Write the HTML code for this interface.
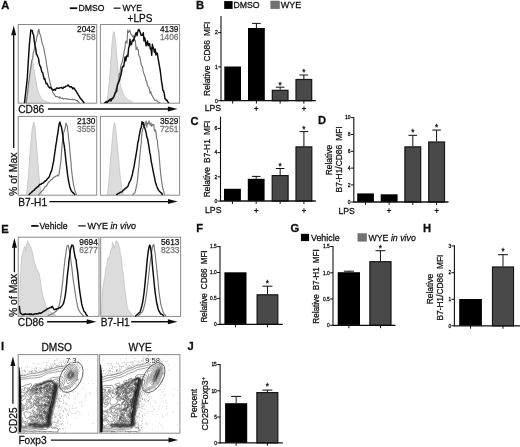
<!DOCTYPE html>
<html lang="en"><head><meta charset="utf-8"><title>Figure</title>
<style>html,body{margin:0;padding:0;background:#fff;}svg{display:block;}</style>
</head><body>
<svg width="520" height="447" viewBox="0 0 520 447" font-family='"Liberation Sans", Arial, sans-serif'>
<rect x="0" y="0" width="520" height="447" fill="#ffffff"/>
<defs><filter id="soft" x="-5%" y="-5%" width="110%" height="110%"><feGaussianBlur stdDeviation="0.3"/></filter><filter id="gsoft" x="0" y="0" width="100%" height="100%" filterUnits="userSpaceOnUse"><feGaussianBlur stdDeviation="0.38"/></filter></defs>
<g filter="url(#gsoft)">
<text x="1.30" y="9.00" font-size="11.2" font-weight="bold" fill="#111" text-anchor="start" stroke="#111" stroke-width="0.3">A</text>
<line x1="69.80" y1="8.20" x2="77.20" y2="8.20" stroke="#111" stroke-width="1.8"/>
<text x="78.60" y="11.40" font-size="8.6" fill="#111" text-anchor="start" stroke="#111" stroke-width="0.26">DMSO</text>
<line x1="113.60" y1="8.20" x2="120.50" y2="8.20" stroke="#3c3c3c" stroke-width="1.5"/>
<text x="122.40" y="11.40" font-size="8.6" fill="#111" text-anchor="start" stroke="#111" stroke-width="0.26">WYE</text>
<text x="127.60" y="21.80" font-size="10" fill="#111" text-anchor="start" stroke="#111" stroke-width="0.26">+LPS</text>
<g>
<rect x="18.20" y="24.50" width="78.50" height="78.70" fill="#fff" stroke="#8a8a8a" stroke-width="1"/>
<polygon points="25.4,102.6 26.1,100.4 26.8,98.1 27.5,94.6 28.2,90.4 28.9,84.6 29.6,78.5 30.3,72.2 31.0,66.0 31.7,61.4 32.4,60.8 33.1,63.1 33.8,67.8 34.5,72.6 35.2,76.3 35.9,80.6 36.6,85.2 37.3,88.9 38.0,91.0 38.7,92.6 39.4,94.6 40.1,95.9 40.8,97.5 41.5,98.7 42.2,99.2 42.9,99.8 43.6,100.5 44.3,100.8 45.0,101.2 45.7,101.3 46.4,101.6 47.1,101.7 47.8,102.0 48.5,102.1 49.2,102.4 49.9,102.6 49.9,102.6 25.4,102.6" fill="#dcdcdc" stroke="#bdbdbd" stroke-width="0.7" stroke-linejoin="round"/>
<polyline points="26.3,102.6 27.0,96.5 27.7,91.0 28.4,84.2 29.1,79.9 29.8,73.4 30.5,69.7 31.2,64.9 31.9,59.9 32.6,59.4 33.3,52.9 34.0,50.6 34.7,48.0 35.4,42.2 36.1,41.6 36.8,36.7 37.5,35.3 38.2,30.6 38.9,29.3 39.6,33.3 40.3,34.9 41.0,37.4 41.7,41.1 42.4,44.2 43.1,45.7 43.8,48.1 44.5,52.2 45.2,55.9 45.9,59.4 46.6,64.5 47.3,68.3 48.0,72.5 48.7,76.4 49.4,79.7 50.1,82.9 50.8,85.8 51.5,87.8 52.2,90.3 52.9,92.5 53.6,93.4 54.3,94.4 55.0,95.5 55.7,96.6 56.4,96.6 57.1,96.6 57.8,96.8 58.5,97.2 59.2,98.2 59.9,96.7 60.6,98.1 61.3,98.2 62.0,98.5 62.7,98.0 63.4,99.1 64.1,98.8 64.8,98.6 65.5,98.7 66.2,98.6 66.9,98.9 67.6,98.9 68.3,99.3 69.0,99.3 69.7,99.2 70.4,99.5 71.1,99.6 71.8,99.5 72.5,99.1 73.2,99.9 73.9,99.4 74.6,99.5 75.3,99.9 76.0,100.2 76.7,100.8 77.4,100.4 78.1,101.7 78.8,102.3 79.5,102.6" fill="none" stroke="#777" stroke-width="1.15" stroke-linejoin="round" stroke-linecap="round"/>
<polyline points="24.5,102.6 25.2,96.9 25.9,90.5 26.6,84.7 27.3,77.9 28.0,66.5 28.7,55.4 29.4,44.3 30.1,37.5 30.8,30.0 31.5,30.6 32.2,30.5 32.9,33.7 33.6,34.8 34.3,41.4 35.0,45.4 35.7,48.7 36.4,54.3 37.1,55.1 37.8,56.8 38.5,58.3 39.2,63.4 39.9,65.9 40.6,66.5 41.3,69.7 42.0,72.1 42.7,72.6 43.4,75.8 44.1,79.0 44.8,78.4 45.5,81.4 46.2,83.7 46.9,83.3 47.6,84.8 48.3,86.3 49.0,87.3 49.7,87.9 50.4,87.2 51.1,88.1 51.8,89.0 52.5,89.2 53.2,90.3 53.9,89.6 54.6,89.3 55.3,90.3 56.0,88.8 56.7,88.0 57.4,88.3 58.1,88.0 58.8,88.5 59.5,88.2 60.2,87.7 60.9,87.6 61.6,87.3 62.3,88.3 63.0,88.5 63.7,87.1 64.4,87.3 65.1,87.0 65.8,86.3 66.5,86.1 67.2,85.9 67.9,84.9 68.6,85.5 69.3,86.5 70.0,87.0 70.7,86.6 71.4,86.8 72.1,87.7 72.8,89.0 73.5,87.8 74.2,88.4 74.9,89.3 75.6,90.7 76.3,91.1 77.0,93.0 77.7,93.5 78.4,95.3 79.1,96.1 79.8,97.2 80.5,98.8 81.2,99.0 81.9,99.8 82.6,101.0 83.3,101.7 84.0,102.6" fill="none" stroke="#0a0a0a" stroke-width="1.45" stroke-linejoin="round" stroke-linecap="round"/>
<text x="95.50" y="32.10" font-size="8.3" fill="#111" text-anchor="end" stroke="#111" stroke-width="0.25">2042</text>
<text x="95.50" y="39.80" font-size="8.3" fill="#777" text-anchor="end" stroke="#777" stroke-width="0.26">758</text>
</g>
<g>
<rect x="100.40" y="24.50" width="79.20" height="78.70" fill="#fff" stroke="#8a8a8a" stroke-width="1"/>
<polygon points="106.5,102.6 107.2,99.0 107.9,95.2 108.6,89.4 109.3,82.4 110.0,72.1 110.7,61.6 111.4,50.9 112.1,42.7 112.8,35.9 113.5,31.4 114.2,32.1 114.9,36.5 115.6,42.0 116.3,50.4 117.0,58.2 117.7,66.4 118.4,72.8 119.1,77.5 119.8,82.1 120.5,85.3 121.2,88.1 121.9,90.3 122.6,91.9 123.3,93.7 124.0,95.2 124.7,96.2 125.4,97.1 126.1,97.8 126.8,98.8 127.5,99.5 128.2,99.9 128.9,99.9 129.6,100.2 130.3,100.9 131.0,101.3 131.7,101.5 132.4,102.0 133.1,102.6 133.1,102.6 106.5,102.6" fill="#dcdcdc" stroke="#bdbdbd" stroke-width="0.7" stroke-linejoin="round"/>
<polyline points="106.0,102.6 106.7,101.7 107.4,102.5 108.1,101.6 108.8,101.2 109.5,100.7 110.2,101.1 110.9,99.3 111.6,99.3 112.3,97.8 113.0,97.3 113.7,96.0 114.4,94.9 115.1,92.9 115.8,89.2 116.5,88.5 117.2,85.6 117.9,82.9 118.6,80.2 119.3,73.6 120.0,74.3 120.7,66.4 121.4,64.1 122.1,62.0 122.8,59.5 123.5,55.3 124.2,51.3 124.9,48.3 125.6,41.9 126.3,41.0 127.0,43.3 127.7,30.0 128.4,32.5 129.1,31.6 129.8,30.2 130.5,32.9 131.2,34.6 131.9,34.9 132.6,36.5 133.3,35.5 134.0,40.3 134.7,39.6 135.4,41.0 136.1,49.6 136.8,47.0 137.5,49.6 138.2,49.6 138.9,56.0 139.6,56.1 140.3,59.2 141.0,63.8 141.7,65.9 142.4,66.7 143.1,70.9 143.8,73.4 144.5,75.3 145.2,76.9 145.9,80.7 146.6,80.9 147.3,84.8 148.0,86.5 148.7,87.3 149.4,89.2 150.1,93.4 150.8,91.6 151.5,94.6 152.2,95.6 152.9,97.2 153.6,98.2 154.3,99.6 155.0,100.2 155.7,100.3 156.4,100.0 157.1,101.0 157.8,101.8 158.5,102.1 159.2,102.6 159.9,102.6" fill="none" stroke="#777" stroke-width="1.15" stroke-linejoin="round" stroke-linecap="round"/>
<polyline points="104.8,102.6 105.5,102.4 106.2,101.5 106.9,102.4 107.6,102.0 108.3,100.5 109.0,100.7 109.7,99.7 110.4,99.1 111.1,100.9 111.8,98.8 112.5,98.9 113.2,97.9 113.9,96.9 114.6,94.7 115.3,92.8 116.0,92.1 116.7,90.8 117.4,85.0 118.1,83.4 118.8,81.6 119.5,80.7 120.2,77.2 120.9,75.1 121.6,71.7 122.3,67.1 123.0,66.2 123.7,66.7 124.4,62.2 125.1,57.0 125.8,60.8 126.5,56.6 127.2,55.3 127.9,56.5 128.6,48.3 129.3,46.1 130.0,39.3 130.7,44.9 131.4,44.6 132.1,41.3 132.8,39.9 133.5,41.1 134.2,38.1 134.9,36.6 135.6,33.7 136.3,32.8 137.0,35.7 137.7,31.6 138.4,30.0 139.1,29.4 139.8,31.3 140.5,33.3 141.2,35.4 141.9,35.3 142.6,35.2 143.3,32.7 144.0,40.9 144.7,37.6 145.4,41.2 146.1,45.8 146.8,43.6 147.5,41.0 148.2,45.8 148.9,43.6 149.6,43.7 150.3,49.0 151.0,48.1 151.7,55.3 152.4,44.3 153.1,47.6 153.8,49.2 154.5,52.3 155.2,49.1 155.9,54.9 156.6,52.9 157.3,53.3 158.0,57.8 158.7,61.6 159.4,65.8 160.1,69.7 160.8,75.0 161.5,81.2 162.2,85.2 162.9,90.3 163.6,90.8 164.3,93.7 165.0,98.9 165.7,99.2 166.4,100.4 167.1,100.3 167.8,101.9 168.5,102.6" fill="none" stroke="#0a0a0a" stroke-width="1.45" stroke-linejoin="round" stroke-linecap="round"/>
<text x="178.40" y="32.10" font-size="8.3" fill="#111" text-anchor="end" stroke="#111" stroke-width="0.25">4139</text>
<text x="178.40" y="39.80" font-size="8.3" fill="#777" text-anchor="end" stroke="#777" stroke-width="0.26">1406</text>
</g>
<g>
<rect x="18.20" y="116.40" width="78.50" height="78.80" fill="#fff" stroke="#8a8a8a" stroke-width="1"/>
<polygon points="26.3,194.6 27.0,189.9 27.7,184.2 28.4,175.6 29.1,165.9 29.8,155.8 30.5,146.3 31.2,139.5 31.9,131.3 32.6,127.0 33.3,123.5 34.0,122.2 34.7,124.9 35.4,131.2 36.1,140.7 36.8,148.8 37.5,157.0 38.2,166.5 38.9,174.5 39.6,181.9 40.3,187.5 41.0,191.5 41.7,194.6 41.7,194.6 26.3,194.6" fill="#dcdcdc" stroke="#bdbdbd" stroke-width="0.7" stroke-linejoin="round"/>
<polyline points="38.6,194.6 39.3,194.1 40.0,193.2 40.7,192.2 41.4,191.6 42.1,190.8 42.8,190.3 43.5,189.5 44.2,188.1 44.9,187.0 45.6,186.1 46.3,186.1 47.0,185.2 47.7,183.7 48.4,182.3 49.1,181.7 49.8,181.5 50.5,180.3 51.2,179.6 51.9,179.5 52.6,178.7 53.3,177.5 54.0,177.6 54.7,176.7 55.4,176.6 56.1,176.0 56.8,175.7 57.5,175.2 58.2,176.0 58.9,174.4 59.6,169.8 60.3,165.5 61.0,160.1 61.7,149.1 62.4,142.4 63.1,134.9 63.8,132.6 64.5,129.7 65.2,128.0 65.9,123.0 66.6,125.0 67.3,126.2 68.0,132.2 68.7,139.1 69.4,144.8 70.1,153.4 70.8,160.5 71.5,169.5 72.2,175.4 72.9,180.8 73.6,185.1 74.3,188.2 75.0,191.0 75.7,192.6 76.4,194.6" fill="none" stroke="#777" stroke-width="1.15" stroke-linejoin="round" stroke-linecap="round"/>
<polyline points="29.2,194.6 29.9,193.6 30.6,193.0 31.3,192.5 32.0,191.9 32.7,191.3 33.4,190.5 34.1,190.3 34.8,189.2 35.5,188.7 36.2,188.0 36.9,187.3 37.6,186.8 38.3,186.5 39.0,185.4 39.7,184.5 40.4,184.3 41.1,184.3 41.8,183.3 42.5,183.2 43.2,183.1 43.9,182.4 44.6,181.1 45.3,181.3 46.0,180.5 46.7,179.9 47.4,178.6 48.1,178.2 48.8,177.6 49.5,176.0 50.2,174.0 50.9,172.0 51.6,170.9 52.3,167.6 53.0,164.1 53.7,160.8 54.4,155.5 55.1,151.0 55.8,145.6 56.5,141.7 57.2,136.6 57.9,133.0 58.6,127.3 59.3,123.5 60.0,122.1 60.7,124.9 61.4,126.7 62.1,131.1 62.8,135.1 63.5,141.7 64.2,145.4 64.9,150.8 65.6,157.8 66.3,163.8 67.0,169.6 67.7,175.4 68.4,180.0 69.1,183.6 69.8,186.9 70.5,188.7 71.2,190.7 71.9,191.5 72.6,192.7 73.3,192.7 74.0,193.6 74.7,194.6" fill="none" stroke="#0a0a0a" stroke-width="1.45" stroke-linejoin="round" stroke-linecap="round"/>
<text x="95.50" y="124.00" font-size="8.3" fill="#111" text-anchor="end" stroke="#111" stroke-width="0.25">2130</text>
<text x="95.50" y="131.70" font-size="8.3" fill="#777" text-anchor="end" stroke="#777" stroke-width="0.26">3555</text>
</g>
<g>
<rect x="100.40" y="116.40" width="79.20" height="78.80" fill="#fff" stroke="#8a8a8a" stroke-width="1"/>
<polygon points="107.4,194.6 108.1,188.6 108.8,181.5 109.5,172.5 110.2,164.0 110.9,154.8 111.6,147.1 112.3,139.9 113.0,131.6 113.7,125.6 114.4,122.4 115.1,123.9 115.8,129.3 116.5,136.0 117.2,142.3 117.9,151.1 118.6,158.3 119.3,167.1 120.0,174.2 120.7,180.3 121.4,184.9 122.1,189.0 122.8,191.7 123.5,194.6 123.5,194.6 107.4,194.6" fill="#dcdcdc" stroke="#bdbdbd" stroke-width="0.7" stroke-linejoin="round"/>
<polyline points="132.8,194.6 133.5,193.7 134.2,193.2 134.9,192.8 135.6,190.1 136.3,186.8 137.0,183.8 137.7,178.0 138.4,170.4 139.1,164.6 139.8,156.1 140.5,148.8 141.2,143.2 141.9,133.7 142.6,129.2 143.3,127.9 144.0,124.7 144.7,126.1 145.4,122.5 146.1,121.0 146.8,127.2 147.5,123.2 148.2,123.9 148.9,120.9 149.6,123.4 150.3,125.3 151.0,122.9 151.7,126.4 152.4,124.4 153.1,125.2 153.8,124.7 154.5,131.2 155.2,129.8 155.9,131.1 156.6,138.7 157.3,140.0 158.0,148.1 158.7,150.9 159.4,158.8 160.1,167.6 160.8,174.6 161.5,180.3 162.2,185.5 162.9,188.8 163.6,190.5 164.3,194.6" fill="none" stroke="#777" stroke-width="1.15" stroke-linejoin="round" stroke-linecap="round"/>
<polyline points="116.8,194.6 117.5,194.0 118.2,193.6 118.9,193.2 119.6,193.0 120.3,192.3 121.0,192.1 121.7,192.0 122.4,191.4 123.1,190.4 123.8,189.9 124.5,189.5 125.2,188.4 125.9,188.0 126.6,187.8 127.3,186.7 128.0,186.1 128.7,183.9 129.4,182.4 130.1,181.1 130.8,179.7 131.5,177.3 132.2,175.5 132.9,171.5 133.6,168.6 134.3,165.3 135.0,160.6 135.7,156.8 136.4,152.5 137.1,148.6 137.8,142.7 138.5,140.3 139.2,135.6 139.9,132.3 140.6,128.5 141.3,127.7 142.0,121.7 142.7,123.9 143.4,122.6 144.1,126.5 144.8,128.1 145.5,130.4 146.2,133.1 146.9,137.4 147.6,138.6 148.3,142.8 149.0,146.9 149.7,152.2 150.4,155.0 151.1,160.6 151.8,164.1 152.5,167.7 153.2,171.3 153.9,174.8 154.6,177.8 155.3,181.6 156.0,184.1 156.7,186.2 157.4,187.7 158.1,189.4 158.8,190.4 159.5,191.3 160.2,192.1 160.9,192.8 161.6,193.0 162.3,194.6" fill="none" stroke="#0a0a0a" stroke-width="1.45" stroke-linejoin="round" stroke-linecap="round"/>
<text x="178.40" y="124.00" font-size="8.3" fill="#111" text-anchor="end" stroke="#111" stroke-width="0.25">3529</text>
<text x="178.40" y="131.70" font-size="8.3" fill="#777" text-anchor="end" stroke="#777" stroke-width="0.26">7251</text>
</g>
<text x="18.20" y="112.70" font-size="10.2" fill="#111" text-anchor="start" stroke="#111" stroke-width="0.26">CD86</text>
<line x1="47.90" y1="109.00" x2="168.90" y2="109.00" stroke="#111" stroke-width="1.4"/>
<polygon points="177.60,109.00 167.90,106.50 167.90,111.50" fill="#111"/>
<text x="18.20" y="205.60" font-size="10.2" fill="#111" text-anchor="start" stroke="#111" stroke-width="0.26">B7-H1</text>
<line x1="49.40" y1="201.60" x2="169.00" y2="201.60" stroke="#111" stroke-width="1.4"/>
<polygon points="177.70,201.60 168.00,199.10 168.00,204.10" fill="#111"/>
<text x="17.00" y="195.90" font-size="10.4" fill="#111" text-anchor="start" transform="rotate(-90 17.00 195.90)" stroke="#111" stroke-width="0.26">% of Max</text>
<line x1="13.70" y1="148.00" x2="13.70" y2="34.30" stroke="#111" stroke-width="1.3"/>
<polygon points="13.70,25.60 11.20,35.30 16.20,35.30" fill="#111"/>
<text x="196.10" y="8.70" font-size="11.2" font-weight="bold" fill="#111" text-anchor="start" stroke="#111" stroke-width="0.3">B</text>
<rect x="224.20" y="1.10" width="8.40" height="7.80" fill="#050505" stroke="none" stroke-width="1"/>
<text x="233.40" y="8.40" font-size="8.7" fill="#111" text-anchor="start" stroke="#111" stroke-width="0.26">DMSO</text>
<rect x="270.80" y="1.00" width="8.70" height="7.80" fill="#727272" stroke="#666" stroke-width="0.5"/>
<text x="280.70" y="8.40" font-size="9.0" fill="#111" text-anchor="start" stroke="#111" stroke-width="0.26">WYE</text>
<rect x="224.30" y="66.50" width="16.70" height="34.20" fill="#050505" stroke="none" stroke-width="1"/>
<line x1="232.65" y1="100.70" x2="232.65" y2="103.60" stroke="#111" stroke-width="1.0"/>
<line x1="256.40" y1="28.00" x2="256.40" y2="23.40" stroke="#111" stroke-width="1.0"/>
<line x1="252.10" y1="23.40" x2="260.70" y2="23.40" stroke="#111" stroke-width="1.0"/>
<rect x="248.00" y="28.00" width="16.80" height="72.70" fill="#050505" stroke="none" stroke-width="1"/>
<line x1="256.40" y1="100.70" x2="256.40" y2="103.60" stroke="#111" stroke-width="1.0"/>
<line x1="280.15" y1="89.80" x2="280.15" y2="87.20" stroke="#111" stroke-width="1.0"/>
<line x1="275.85" y1="87.20" x2="284.45" y2="87.20" stroke="#111" stroke-width="1.0"/>
<rect x="272.30" y="90.30" width="15.70" height="10.40" fill="#4a4a4a" stroke="#141414" stroke-width="1.2"/>
<text x="280.15" y="87.50" font-size="8.2" fill="#111" text-anchor="middle" stroke="#111" stroke-width="0.26">*</text>
<line x1="280.15" y1="100.70" x2="280.15" y2="103.60" stroke="#111" stroke-width="1.0"/>
<line x1="303.85" y1="79.00" x2="303.85" y2="75.00" stroke="#111" stroke-width="1.0"/>
<line x1="299.55" y1="75.00" x2="308.15" y2="75.00" stroke="#111" stroke-width="1.0"/>
<rect x="296.00" y="79.50" width="15.70" height="21.20" fill="#4a4a4a" stroke="#141414" stroke-width="1.2"/>
<text x="303.85" y="75.30" font-size="8.2" fill="#111" text-anchor="middle" stroke="#111" stroke-width="0.26">*</text>
<line x1="303.85" y1="100.70" x2="303.85" y2="103.60" stroke="#111" stroke-width="1.0"/>
<line x1="221.00" y1="15.90" x2="221.00" y2="101.20" stroke="#111" stroke-width="1.1"/>
<line x1="220.50" y1="100.70" x2="315.80" y2="100.70" stroke="#111" stroke-width="1.3"/>
<line x1="218.10" y1="32.60" x2="221.00" y2="32.60" stroke="#111" stroke-width="1.0"/>
<text x="217.70" y="34.40" font-size="5.0" fill="#111" text-anchor="end" stroke="#111" stroke-width="0.26">2</text>
<line x1="218.10" y1="66.80" x2="221.00" y2="66.80" stroke="#111" stroke-width="1.0"/>
<text x="217.70" y="68.60" font-size="5.0" fill="#111" text-anchor="end" stroke="#111" stroke-width="0.26">1</text>
<line x1="218.10" y1="100.70" x2="221.00" y2="100.70" stroke="#111" stroke-width="1.0"/>
<text x="217.70" y="102.50" font-size="5.0" fill="#111" text-anchor="end" stroke="#111" stroke-width="0.26">0</text>
<text x="210.20" y="95.90" font-size="8.4" fill="#111" text-anchor="start" transform="rotate(-90 210.20 95.90)" word-spacing="1.8" stroke="#111" stroke-width="0.26">Relative CD86 MFI</text>
<text x="204.70" y="110.80" font-size="8.7" fill="#111" text-anchor="start" stroke="#111" stroke-width="0.26">LPS</text>
<text x="256.30" y="112.10" font-size="8.5" font-weight="bold" fill="#111" text-anchor="middle">+</text>
<text x="303.90" y="112.10" font-size="8.5" font-weight="bold" fill="#111" text-anchor="middle">+</text>
<text x="190.40" y="124.60" font-size="11.2" font-weight="bold" fill="#111" text-anchor="start" stroke="#111" stroke-width="0.3">C</text>
<rect x="224.00" y="188.80" width="16.90" height="12.20" fill="#050505" stroke="none" stroke-width="1"/>
<line x1="232.45" y1="201.00" x2="232.45" y2="203.90" stroke="#111" stroke-width="1.0"/>
<line x1="256.20" y1="178.80" x2="256.20" y2="176.40" stroke="#111" stroke-width="1.0"/>
<line x1="251.90" y1="176.40" x2="260.50" y2="176.40" stroke="#111" stroke-width="1.0"/>
<rect x="247.80" y="178.80" width="16.80" height="22.20" fill="#050505" stroke="none" stroke-width="1"/>
<line x1="256.20" y1="201.00" x2="256.20" y2="203.90" stroke="#111" stroke-width="1.0"/>
<line x1="280.15" y1="175.10" x2="280.15" y2="168.50" stroke="#111" stroke-width="1.0"/>
<line x1="275.85" y1="168.50" x2="284.45" y2="168.50" stroke="#111" stroke-width="1.0"/>
<rect x="272.20" y="175.60" width="15.90" height="25.40" fill="#4a4a4a" stroke="#141414" stroke-width="1.2"/>
<text x="280.15" y="168.80" font-size="8.2" fill="#111" text-anchor="middle" stroke="#111" stroke-width="0.26">*</text>
<line x1="280.15" y1="201.00" x2="280.15" y2="203.90" stroke="#111" stroke-width="1.0"/>
<line x1="303.90" y1="146.40" x2="303.90" y2="131.60" stroke="#111" stroke-width="1.0"/>
<line x1="299.60" y1="131.60" x2="308.20" y2="131.60" stroke="#111" stroke-width="1.0"/>
<rect x="296.00" y="146.90" width="15.80" height="54.10" fill="#4a4a4a" stroke="#141414" stroke-width="1.2"/>
<text x="303.90" y="132.00" font-size="8.2" fill="#111" text-anchor="middle" stroke="#111" stroke-width="0.26">*</text>
<line x1="303.90" y1="201.00" x2="303.90" y2="203.90" stroke="#111" stroke-width="1.0"/>
<line x1="220.50" y1="116.70" x2="220.50" y2="201.50" stroke="#111" stroke-width="1.1"/>
<line x1="220.00" y1="201.00" x2="315.80" y2="201.00" stroke="#111" stroke-width="1.3"/>
<line x1="217.60" y1="128.40" x2="220.50" y2="128.40" stroke="#111" stroke-width="1.0"/>
<text x="217.20" y="130.20" font-size="5.0" fill="#111" text-anchor="end" stroke="#111" stroke-width="0.26">6</text>
<line x1="217.60" y1="152.60" x2="220.50" y2="152.60" stroke="#111" stroke-width="1.0"/>
<text x="217.20" y="154.40" font-size="5.0" fill="#111" text-anchor="end" stroke="#111" stroke-width="0.26">4</text>
<line x1="217.60" y1="176.80" x2="220.50" y2="176.80" stroke="#111" stroke-width="1.0"/>
<text x="217.20" y="178.60" font-size="5.0" fill="#111" text-anchor="end" stroke="#111" stroke-width="0.26">2</text>
<line x1="217.60" y1="201.00" x2="220.50" y2="201.00" stroke="#111" stroke-width="1.0"/>
<text x="217.20" y="202.80" font-size="5.0" fill="#111" text-anchor="end" stroke="#111" stroke-width="0.26">0</text>
<text x="210.20" y="197.30" font-size="8.4" fill="#111" text-anchor="start" transform="rotate(-90 210.20 197.30)" word-spacing="1.8" stroke="#111" stroke-width="0.26">Relative B7-H1 MFI</text>
<text x="205.00" y="213.40" font-size="8.7" fill="#111" text-anchor="start" stroke="#111" stroke-width="0.26">LPS</text>
<text x="256.30" y="213.90" font-size="8.5" font-weight="bold" fill="#111" text-anchor="middle">+</text>
<text x="303.90" y="213.90" font-size="8.5" font-weight="bold" fill="#111" text-anchor="middle">+</text>
<text x="318.00" y="124.30" font-size="11.2" font-weight="bold" fill="#111" text-anchor="start" stroke="#111" stroke-width="0.3">D</text>
<rect x="357.20" y="193.40" width="16.70" height="8.60" fill="#050505" stroke="none" stroke-width="1"/>
<line x1="365.55" y1="202.00" x2="365.55" y2="204.90" stroke="#111" stroke-width="1.0"/>
<rect x="380.70" y="194.30" width="16.90" height="7.70" fill="#050505" stroke="none" stroke-width="1"/>
<line x1="389.15" y1="202.00" x2="389.15" y2="204.90" stroke="#111" stroke-width="1.0"/>
<line x1="412.80" y1="146.40" x2="412.80" y2="135.30" stroke="#111" stroke-width="1.0"/>
<line x1="408.50" y1="135.30" x2="417.10" y2="135.30" stroke="#111" stroke-width="1.0"/>
<rect x="404.90" y="146.90" width="15.80" height="55.10" fill="#4a4a4a" stroke="#141414" stroke-width="1.2"/>
<text x="412.80" y="135.20" font-size="8.2" fill="#111" text-anchor="middle" stroke="#111" stroke-width="0.26">*</text>
<line x1="412.80" y1="202.00" x2="412.80" y2="204.90" stroke="#111" stroke-width="1.0"/>
<line x1="436.60" y1="141.50" x2="436.60" y2="130.10" stroke="#111" stroke-width="1.0"/>
<line x1="432.30" y1="130.10" x2="440.90" y2="130.10" stroke="#111" stroke-width="1.0"/>
<rect x="428.70" y="142.00" width="15.80" height="60.00" fill="#4a4a4a" stroke="#141414" stroke-width="1.2"/>
<text x="436.60" y="129.80" font-size="8.2" fill="#111" text-anchor="middle" stroke="#111" stroke-width="0.26">*</text>
<line x1="436.60" y1="202.00" x2="436.60" y2="204.90" stroke="#111" stroke-width="1.0"/>
<line x1="353.80" y1="117.10" x2="353.80" y2="202.50" stroke="#111" stroke-width="1.1"/>
<line x1="353.30" y1="202.00" x2="448.50" y2="202.00" stroke="#111" stroke-width="1.3"/>
<line x1="350.90" y1="117.60" x2="353.80" y2="117.60" stroke="#111" stroke-width="1.0"/>
<text x="350.50" y="119.40" font-size="5.0" fill="#111" text-anchor="end" stroke="#111" stroke-width="0.26">10</text>
<line x1="350.90" y1="134.50" x2="353.80" y2="134.50" stroke="#111" stroke-width="1.0"/>
<text x="350.50" y="136.30" font-size="5.0" fill="#111" text-anchor="end" stroke="#111" stroke-width="0.26">8</text>
<line x1="350.90" y1="151.30" x2="353.80" y2="151.30" stroke="#111" stroke-width="1.0"/>
<text x="350.50" y="153.10" font-size="5.0" fill="#111" text-anchor="end" stroke="#111" stroke-width="0.26">6</text>
<line x1="350.90" y1="168.10" x2="353.80" y2="168.10" stroke="#111" stroke-width="1.0"/>
<text x="350.50" y="169.90" font-size="5.0" fill="#111" text-anchor="end" stroke="#111" stroke-width="0.26">4</text>
<line x1="350.90" y1="184.90" x2="353.80" y2="184.90" stroke="#111" stroke-width="1.0"/>
<text x="350.50" y="186.70" font-size="5.0" fill="#111" text-anchor="end" stroke="#111" stroke-width="0.26">2</text>
<line x1="350.90" y1="202.00" x2="353.80" y2="202.00" stroke="#111" stroke-width="1.0"/>
<text x="350.50" y="203.80" font-size="5.0" fill="#111" text-anchor="end" stroke="#111" stroke-width="0.26">0</text>
<text x="332.50" y="175.20" font-size="8.4" fill="#111" text-anchor="start" transform="rotate(-90 332.50 175.20)" stroke="#111" stroke-width="0.26">Relative</text>
<text x="341.70" y="192.40" font-size="8.4" fill="#111" text-anchor="start" transform="rotate(-90 341.70 192.40)" word-spacing="1.8" stroke="#111" stroke-width="0.26">B7-H1/CD86 MFI</text>
<text x="338.40" y="213.70" font-size="8.7" fill="#111" text-anchor="start" stroke="#111" stroke-width="0.26">LPS</text>
<text x="388.90" y="213.90" font-size="8.5" font-weight="bold" fill="#111" text-anchor="middle">+</text>
<text x="436.70" y="213.90" font-size="8.5" font-weight="bold" fill="#111" text-anchor="middle">+</text>
<text x="1.30" y="232.90" font-size="11.2" font-weight="bold" fill="#111" text-anchor="start" stroke="#111" stroke-width="0.3">E</text>
<line x1="31.20" y1="225.90" x2="38.50" y2="225.90" stroke="#111" stroke-width="1.8"/>
<text x="39.50" y="229.20" font-size="8.7" fill="#111" text-anchor="start" stroke="#111" stroke-width="0.26">Vehicle</text>
<line x1="78.20" y1="225.90" x2="85.80" y2="225.90" stroke="#3c3c3c" stroke-width="1.5"/>
<text x="87.50" y="229.20" font-size="9.0" fill="#111" text-anchor="start" stroke="#111" stroke-width="0.26">WYE <tspan font-style="italic">in vivo</tspan></text>
<g>
<rect x="18.20" y="237.20" width="80.80" height="79.20" fill="#fff" stroke="#8a8a8a" stroke-width="1"/>
<polygon points="19.4,315.8 20.1,287.5 20.8,271.6 21.5,257.3 22.2,254.7 22.9,252.3 23.6,249.9 24.3,246.7 25.0,246.7 25.7,251.6 26.4,244.1 27.1,242.9 27.8,240.7 28.5,245.2 29.2,243.8 29.9,246.5 30.6,246.1 31.3,248.2 32.0,250.7 32.7,254.1 33.4,258.1 34.1,260.6 34.8,264.2 35.5,264.3 36.2,268.4 36.9,269.3 37.6,270.2 38.3,272.4 39.0,273.1 39.7,277.1 40.4,280.3 41.1,287.4 41.8,289.9 42.5,293.5 43.2,297.0 43.9,299.0 44.6,301.7 45.3,303.5 46.0,305.8 46.7,307.1 47.4,308.8 48.1,309.1 48.8,309.9 49.5,311.0 50.2,311.7 50.9,312.1 51.6,312.2 52.3,313.9 53.0,313.2 53.7,314.1 54.4,314.4 55.1,314.8 55.8,315.8 55.8,315.8 19.4,315.8" fill="#dcdcdc" stroke="#bdbdbd" stroke-width="0.7" stroke-linejoin="round"/>
<polyline points="48.0,315.8 48.7,315.3 49.4,315.1 50.1,314.6 50.8,314.4 51.5,314.1 52.2,313.9 52.9,313.5 53.6,312.9 54.3,312.7 55.0,311.8 55.7,311.6 56.4,310.8 57.1,310.3 57.8,309.6 58.5,307.8 59.2,305.2 59.9,302.3 60.6,298.4 61.3,292.9 62.0,287.6 62.7,281.4 63.4,274.4 64.1,267.0 64.8,260.7 65.5,256.2 66.2,251.2 66.9,246.2 67.6,245.6 68.3,245.4 69.0,249.0 69.7,252.3 70.4,256.5 71.1,262.2 71.8,267.4 72.5,273.4 73.2,279.6 73.9,284.1 74.6,289.1 75.3,293.4 76.0,298.0 76.7,301.9 77.4,305.2 78.1,308.4 78.8,310.0 79.5,311.1 80.2,312.5 80.9,313.1 81.6,314.1 82.3,315.0 83.0,315.5 83.7,315.8" fill="none" stroke="#777" stroke-width="1.15" stroke-linejoin="round" stroke-linecap="round"/>
<polyline points="19.4,306.5 20.1,312.3 20.8,313.4 21.5,313.9 22.2,314.4 22.9,314.8 23.6,314.2 24.3,314.6 25.0,313.8 25.7,314.3 26.4,314.2 27.1,314.1 27.8,314.2 28.5,314.1 29.2,314.4 29.9,313.7 30.6,314.6 31.3,313.9 32.0,314.5 32.7,314.5 33.4,314.6 34.1,314.1 34.8,313.8 35.5,313.8 36.2,314.1 36.9,313.7 37.6,313.6 38.3,313.7 39.0,313.0 39.7,312.9 40.4,313.4 41.1,313.0 41.8,312.7 42.5,312.4 43.2,311.5 43.9,311.1 44.6,311.1 45.3,310.1 46.0,310.1 46.7,309.3 47.4,308.8 48.1,308.5 48.8,308.3 49.5,307.9 50.2,307.4 50.9,307.7 51.6,306.9 52.3,306.3 53.0,307.5 53.7,308.9 54.4,309.6 55.1,309.6 55.8,309.1 56.5,309.2 57.2,308.6 57.9,308.6 58.6,308.0 59.3,307.8 60.0,307.9 60.7,307.1 61.4,306.5 62.1,305.6 62.8,304.6 63.5,303.4 64.2,300.7 64.9,297.6 65.6,293.0 66.3,287.2 67.0,279.9 67.7,272.3 68.4,267.3 69.1,259.7 69.8,255.5 70.5,249.3 71.2,246.8 71.9,245.1 72.6,245.3 73.3,246.2 74.0,250.9 74.7,255.0 75.4,258.2 76.1,259.9 76.8,266.8 77.5,270.7 78.2,277.4 78.9,284.5 79.6,290.1 80.3,295.0 81.0,299.3 81.7,303.9 82.4,306.6 83.1,308.4 83.8,311.0 84.5,311.7 85.2,312.4 85.9,314.1 86.6,314.9 87.3,315.8" fill="none" stroke="#0a0a0a" stroke-width="1.45" stroke-linejoin="round" stroke-linecap="round"/>
<text x="97.80" y="244.80" font-size="8.3" fill="#111" text-anchor="end" stroke="#111" stroke-width="0.25">9694</text>
<text x="97.80" y="252.50" font-size="8.3" fill="#777" text-anchor="end" stroke="#777" stroke-width="0.26">6277</text>
</g>
<g>
<rect x="100.70" y="237.20" width="79.90" height="79.20" fill="#fff" stroke="#8a8a8a" stroke-width="1"/>
<polygon points="101.4,315.8 102.1,299.3 102.8,288.4 103.5,284.2 104.2,279.3 104.9,276.5 105.6,270.5 106.3,266.3 107.0,264.5 107.7,258.9 108.4,257.5 109.1,257.3 109.8,255.4 110.5,251.4 111.2,248.5 111.9,248.4 112.6,242.3 113.3,244.9 114.0,248.5 114.7,246.1 115.4,244.3 116.1,240.6 116.8,241.6 117.5,242.0 118.2,243.2 118.9,245.5 119.6,247.7 120.3,253.9 121.0,256.2 121.7,259.7 122.4,270.9 123.1,271.3 123.8,278.9 124.5,286.9 125.2,291.3 125.9,297.1 126.6,302.2 127.3,307.4 128.0,309.4 128.7,310.3 129.4,311.5 130.1,312.4 130.8,312.7 131.5,314.2 132.2,314.4 132.9,315.1 133.6,315.8 133.6,315.8 101.4,315.8" fill="#dcdcdc" stroke="#bdbdbd" stroke-width="0.7" stroke-linejoin="round"/>
<polyline points="138.4,315.8 139.1,315.0 139.8,314.4 140.5,313.9 141.2,312.8 141.9,312.5 142.6,311.1 143.3,309.9 144.0,307.0 144.7,304.5 145.4,300.9 146.1,297.0 146.8,291.8 147.5,286.2 148.2,280.4 148.9,273.5 149.6,267.2 150.3,261.7 151.0,256.7 151.7,251.6 152.4,247.2 153.1,245.2 153.8,244.4 154.5,249.5 155.2,253.8 155.9,261.2 156.6,267.3 157.3,274.6 158.0,281.2 158.7,289.0 159.4,295.0 160.1,299.7 160.8,304.1 161.5,306.9 162.2,309.2 162.9,311.4 163.6,313.1 164.3,313.8 165.0,314.7 165.7,315.8" fill="none" stroke="#777" stroke-width="1.15" stroke-linejoin="round" stroke-linecap="round"/>
<polyline points="135.6,315.8 136.3,315.4 137.0,314.7 137.7,314.0 138.4,313.6 139.1,312.8 139.8,312.4 140.5,310.5 141.2,308.1 141.9,305.7 142.6,302.5 143.3,298.1 144.0,293.1 144.7,286.8 145.4,279.1 146.1,272.3 146.8,264.1 147.5,257.2 148.2,251.5 148.9,247.8 149.6,245.2 150.3,246.0 151.0,250.3 151.7,255.7 152.4,264.7 153.1,272.4 153.8,279.4 154.5,286.5 155.2,292.6 155.9,297.5 156.6,302.5 157.3,305.3 158.0,308.5 158.7,310.5 159.4,311.6 160.1,313.0 160.8,314.0 161.5,314.0 162.2,314.7 162.9,315.0 163.6,315.8" fill="none" stroke="#0a0a0a" stroke-width="1.45" stroke-linejoin="round" stroke-linecap="round"/>
<text x="179.40" y="244.80" font-size="8.3" fill="#111" text-anchor="end" stroke="#111" stroke-width="0.25">5613</text>
<text x="179.40" y="252.50" font-size="8.3" fill="#777" text-anchor="end" stroke="#777" stroke-width="0.26">8233</text>
</g>
<text x="17.80" y="326.00" font-size="10.2" fill="#111" text-anchor="start" stroke="#111" stroke-width="0.26">CD86</text>
<line x1="47.10" y1="321.80" x2="87.70" y2="321.80" stroke="#111" stroke-width="1.4"/>
<polygon points="96.40,321.80 86.70,319.30 86.70,324.30" fill="#111"/>
<text x="100.80" y="326.00" font-size="10.2" fill="#111" text-anchor="start" stroke="#111" stroke-width="0.26">B7-H1</text>
<line x1="131.20" y1="321.80" x2="168.90" y2="321.80" stroke="#111" stroke-width="1.4"/>
<polygon points="177.60,321.80 167.90,319.30 167.90,324.30" fill="#111"/>
<text x="16.90" y="317.00" font-size="10.4" fill="#111" text-anchor="start" transform="rotate(-90 16.90 317.00)" stroke="#111" stroke-width="0.26">% of Max</text>
<line x1="14.40" y1="272.20" x2="14.40" y2="246.70" stroke="#111" stroke-width="1.3"/>
<polygon points="14.40,238.00 11.90,247.70 16.90,247.70" fill="#111"/>
<text x="196.20" y="232.10" font-size="11.2" font-weight="bold" fill="#111" text-anchor="start" stroke="#111" stroke-width="0.3">F</text>
<rect x="224.40" y="272.30" width="22.10" height="52.10" fill="#050505" stroke="none" stroke-width="1"/>
<line x1="235.45" y1="324.40" x2="235.45" y2="327.30" stroke="#111" stroke-width="1.0"/>
<line x1="267.45" y1="294.30" x2="267.45" y2="286.20" stroke="#111" stroke-width="1.0"/>
<line x1="262.45" y1="286.20" x2="272.45" y2="286.20" stroke="#111" stroke-width="1.0"/>
<rect x="257.10" y="294.80" width="20.70" height="29.60" fill="#4a4a4a" stroke="#141414" stroke-width="1.2"/>
<text x="267.45" y="286.00" font-size="8.2" fill="#111" text-anchor="middle" stroke="#111" stroke-width="0.26">*</text>
<line x1="267.45" y1="324.40" x2="267.45" y2="327.30" stroke="#111" stroke-width="1.0"/>
<line x1="220.00" y1="246.10" x2="220.00" y2="324.90" stroke="#111" stroke-width="1.1"/>
<line x1="219.50" y1="324.40" x2="282.80" y2="324.40" stroke="#111" stroke-width="1.3"/>
<line x1="217.10" y1="246.60" x2="220.00" y2="246.60" stroke="#111" stroke-width="1.0"/>
<text x="216.70" y="248.33" font-size="4.8" fill="#111" text-anchor="end" stroke="#111" stroke-width="0.26">1.5</text>
<line x1="217.10" y1="272.50" x2="220.00" y2="272.50" stroke="#111" stroke-width="1.0"/>
<text x="216.70" y="274.23" font-size="4.8" fill="#111" text-anchor="end" stroke="#111" stroke-width="0.26">1.0</text>
<line x1="217.10" y1="298.40" x2="220.00" y2="298.40" stroke="#111" stroke-width="1.0"/>
<text x="216.70" y="300.13" font-size="4.8" fill="#111" text-anchor="end" stroke="#111" stroke-width="0.26">0.5</text>
<line x1="217.10" y1="324.40" x2="220.00" y2="324.40" stroke="#111" stroke-width="1.0"/>
<text x="216.70" y="326.13" font-size="4.8" fill="#111" text-anchor="end" stroke="#111" stroke-width="0.26">0</text>
<text x="207.50" y="322.60" font-size="8.15" fill="#111" text-anchor="start" transform="rotate(-90 207.50 322.60)" word-spacing="1.8" stroke="#111" stroke-width="0.26">Relative CD86 MFI</text>
<text x="290.60" y="231.60" font-size="11.2" font-weight="bold" fill="#111" text-anchor="start" stroke="#111" stroke-width="0.3">G</text>
<rect x="300.90" y="233.80" width="8.20" height="7.30" fill="#050505" stroke="none" stroke-width="1"/>
<text x="311.00" y="240.50" font-size="8.9" fill="#111" text-anchor="start" stroke="#111" stroke-width="0.26">Vehicle</text>
<rect x="357.90" y="233.60" width="8.70" height="7.60" fill="#727272" stroke="#666" stroke-width="0.5"/>
<text x="368.40" y="240.50" font-size="8.8" fill="#111" text-anchor="start" stroke="#111" stroke-width="0.26">WYE <tspan font-style="italic">in vivo</tspan></text>
<line x1="348.85" y1="272.20" x2="348.85" y2="271.20" stroke="#111" stroke-width="1.0"/>
<line x1="343.85" y1="271.20" x2="353.85" y2="271.20" stroke="#111" stroke-width="1.0"/>
<rect x="337.70" y="272.20" width="22.30" height="53.10" fill="#050505" stroke="none" stroke-width="1"/>
<line x1="348.85" y1="325.30" x2="348.85" y2="328.20" stroke="#111" stroke-width="1.0"/>
<line x1="380.45" y1="261.20" x2="380.45" y2="250.70" stroke="#111" stroke-width="1.0"/>
<line x1="375.45" y1="250.70" x2="385.45" y2="250.70" stroke="#111" stroke-width="1.0"/>
<rect x="369.90" y="261.70" width="21.10" height="63.60" fill="#4a4a4a" stroke="#141414" stroke-width="1.2"/>
<text x="380.45" y="251.00" font-size="8.2" fill="#111" text-anchor="middle" stroke="#111" stroke-width="0.26">*</text>
<line x1="380.45" y1="325.30" x2="380.45" y2="328.20" stroke="#111" stroke-width="1.0"/>
<line x1="333.00" y1="246.10" x2="333.00" y2="325.80" stroke="#111" stroke-width="1.1"/>
<line x1="332.50" y1="325.30" x2="395.50" y2="325.30" stroke="#111" stroke-width="1.3"/>
<line x1="330.10" y1="246.50" x2="333.00" y2="246.50" stroke="#111" stroke-width="1.0"/>
<text x="329.70" y="248.23" font-size="4.8" fill="#111" text-anchor="end" stroke="#111" stroke-width="0.26">1.5</text>
<line x1="330.10" y1="272.80" x2="333.00" y2="272.80" stroke="#111" stroke-width="1.0"/>
<text x="329.70" y="274.53" font-size="4.8" fill="#111" text-anchor="end" stroke="#111" stroke-width="0.26">1.0</text>
<line x1="330.10" y1="299.00" x2="333.00" y2="299.00" stroke="#111" stroke-width="1.0"/>
<text x="329.70" y="300.73" font-size="4.8" fill="#111" text-anchor="end" stroke="#111" stroke-width="0.26">0.5</text>
<line x1="330.10" y1="325.30" x2="333.00" y2="325.30" stroke="#111" stroke-width="1.0"/>
<text x="329.70" y="327.03" font-size="4.8" fill="#111" text-anchor="end" stroke="#111" stroke-width="0.26">0</text>
<text x="319.10" y="323.70" font-size="8.15" fill="#111" text-anchor="start" transform="rotate(-90 319.10 323.70)" word-spacing="1.8" stroke="#111" stroke-width="0.26">Relative B7-H1 MFI</text>
<text x="423.10" y="231.50" font-size="11.2" font-weight="bold" fill="#111" text-anchor="start" stroke="#111" stroke-width="0.3">H</text>
<rect x="459.20" y="299.00" width="22.70" height="26.80" fill="#050505" stroke="none" stroke-width="1"/>
<line x1="470.55" y1="325.80" x2="470.55" y2="328.70" stroke="#111" stroke-width="1.0"/>
<line x1="503.00" y1="266.50" x2="503.00" y2="254.70" stroke="#111" stroke-width="1.0"/>
<line x1="498.00" y1="254.70" x2="508.00" y2="254.70" stroke="#111" stroke-width="1.0"/>
<rect x="492.50" y="267.00" width="21.00" height="58.80" fill="#4a4a4a" stroke="#141414" stroke-width="1.2"/>
<text x="503.00" y="254.20" font-size="8.2" fill="#111" text-anchor="middle" stroke="#111" stroke-width="0.26">*</text>
<line x1="503.00" y1="325.80" x2="503.00" y2="328.70" stroke="#111" stroke-width="1.0"/>
<line x1="454.40" y1="245.30" x2="454.40" y2="326.30" stroke="#111" stroke-width="1.1"/>
<line x1="453.90" y1="325.80" x2="520.00" y2="325.80" stroke="#111" stroke-width="1.3"/>
<line x1="451.50" y1="246.00" x2="454.40" y2="246.00" stroke="#111" stroke-width="1.0"/>
<text x="451.10" y="247.73" font-size="4.8" fill="#111" text-anchor="end" stroke="#111" stroke-width="0.26">3</text>
<line x1="451.50" y1="272.70" x2="454.40" y2="272.70" stroke="#111" stroke-width="1.0"/>
<text x="451.10" y="274.43" font-size="4.8" fill="#111" text-anchor="end" stroke="#111" stroke-width="0.26">2</text>
<line x1="451.50" y1="299.30" x2="454.40" y2="299.30" stroke="#111" stroke-width="1.0"/>
<text x="451.10" y="301.03" font-size="4.8" fill="#111" text-anchor="end" stroke="#111" stroke-width="0.26">1</text>
<line x1="451.50" y1="325.80" x2="454.40" y2="325.80" stroke="#111" stroke-width="1.0"/>
<text x="451.10" y="327.53" font-size="4.8" fill="#111" text-anchor="end" stroke="#111" stroke-width="0.26">0</text>
<text x="433.10" y="304.20" font-size="8.4" fill="#111" text-anchor="start" transform="rotate(-90 433.10 304.20)" stroke="#111" stroke-width="0.26">Relative</text>
<text x="442.80" y="320.60" font-size="8.4" fill="#111" text-anchor="start" transform="rotate(-90 442.80 320.60)" word-spacing="1.8" stroke="#111" stroke-width="0.26">B7-H1/CD86 MFI</text>
<text x="0.90" y="349.80" font-size="11.2" font-weight="bold" fill="#111" text-anchor="start" stroke="#111" stroke-width="0.3">I</text>
<text x="41.40" y="351.00" font-size="10.2" fill="#111" text-anchor="start" stroke="#111" stroke-width="0.26">DMSO</text>
<text x="128.60" y="351.00" font-size="10.2" fill="#111" text-anchor="start" stroke="#111" stroke-width="0.26">WYE</text>
<g>
<rect x="18.20" y="354.60" width="79.70" height="78.60" fill="#fff" stroke="#8a8a8a" stroke-width="1"/>
<clipPath id="cp3"><rect x="18.7" y="355.1" width="78.7" height="77.6"/></clipPath>
<g clip-path="url(#cp3)" filter="url(#soft)">
<path d="M48.8 358.6h.5M57.0 358.8h.5M56.5 359.1h.5M73.3 358.9h.5M64.6 359.1h.5M78.9 359.2h.5M70.1 359.5h.5M63.1 360.2h.5M65.9 360.2h.5M80.6 360.2h.5M96.7 360.1h.5M54.5 360.4h.5M56.9 360.5h.5M74.5 360.4h.5M48.4 360.7h.5M54.9 360.7h.5M61.7 360.9h.5M67.8 361.0h.5M54.5 361.2h.5M63.4 361.3h.5M65.0 361.2h.5M78.6 361.2h.5M22.7 361.4h.5M60.6 361.5h.5M65.7 361.4h.5M69.6 361.8h.5M76.8 361.6h.5M43.3 362.2h.5M59.3 362.3h.5M68.1 362.3h.5M70.3 362.3h.5M73.0 362.1h.5M75.2 362.2h.5M75.7 362.2h.5M63.3 362.5h.5M46.3 362.7h.5M58.5 362.8h.5M61.4 362.7h.5M65.2 362.7h.5M67.8 362.6h.5M78.4 362.7h.5M66.8 363.1h.5M41.8 363.3h.5M46.9 363.2h.5M66.6 363.3h.5M72.6 363.2h.5M74.4 363.3h.5M33.1 363.4h.5M33.7 363.4h.5M72.8 363.6h.5M76.1 363.6h.5M54.5 363.6h.5M54.8 363.6h.5M64.3 363.6h.5M77.0 363.8h.5M38.6 364.1h.5M50.6 364.0h.5M51.8 364.1h.5M54.8 364.0h.5M73.2 363.9h.5M37.7 364.1h.5M61.1 364.2h.5M79.7 364.2h.5M54.7 364.4h.5M59.3 364.4h.5M65.6 364.4h.5M69.7 364.6h.5M77.5 364.5h.5M61.2 364.7h.5M66.4 364.6h.5M76.0 364.8h.5M52.8 364.9h.5M45.9 365.2h.5M65.2 365.1h.5M47.4 365.5h.5M51.1 365.4h.5M56.6 365.5h.5M57.6 365.4h.5M77.2 365.5h.5M57.5 365.7h.5M61.5 365.8h.5M61.7 365.6h.5M53.4 366.1h.5M56.2 366.0h.5M58.5 366.0h.5M62.6 365.9h.5M40.9 366.3h.5M48.5 366.3h.5M56.6 366.2h.5M58.9 366.3h.5M59.8 366.3h.5M60.8 366.1h.5M78.6 366.2h.5M26.9 366.4h.5M35.4 366.4h.5M50.9 366.5h.5M59.6 366.4h.5M78.3 366.5h.5M45.7 366.8h.5M50.0 366.7h.5M51.7 366.8h.5M51.2 366.9h.5M55.0 366.9h.5M56.8 366.9h.5M76.7 367.0h.5M25.5 367.2h.5M27.4 367.1h.5M36.3 367.4h.5M45.7 367.4h.5M52.3 367.4h.5M21.0 367.8h.5M39.6 367.8h.5M49.5 367.8h.5M79.4 367.8h.5M79.8 367.7h.5M31.7 368.0h.5M49.3 368.0h.5M51.2 367.9h.5M51.5 367.9h.5M54.6 367.9h.5M79.2 367.9h.5M34.9 368.2h.5M36.5 368.3h.5M41.1 368.3h.5M43.0 368.3h.5M49.6 368.1h.5M33.9 368.4h.5M50.4 368.4h.5M51.2 368.5h.5M20.7 368.8h.5M40.4 368.7h.5M44.1 368.8h.5M47.9 368.7h.5M50.2 368.8h.5M21.4 368.9h.5M36.5 369.0h.5M44.8 368.9h.5M45.4 369.0h.5M46.4 368.9h.5M78.6 369.0h.5M44.7 369.3h.5M46.3 369.2h.5M47.0 369.3h.5M48.9 369.2h.5M45.8 369.5h.5M80.0 369.5h.5M22.9 369.8h.5M24.2 369.8h.5M34.5 369.6h.5M45.5 369.8h.5M78.0 369.7h.5M35.2 370.3h.5M38.4 370.3h.5M41.2 370.3h.5M45.4 370.2h.5M46.5 370.2h.5M24.0 370.5h.5M31.6 370.5h.5M43.4 370.5h.5M31.9 370.6h.5M34.0 370.6h.5M34.7 370.8h.5M39.4 370.7h.5M42.5 370.8h.5M42.8 370.6h.5M44.4 370.7h.5M78.8 370.6h.5M19.1 370.9h.5M20.8 371.0h.5M22.7 371.0h.5M24.4 370.9h.5M29.3 371.0h.5M30.6 371.1h.5M31.9 371.0h.5M79.4 371.1h.5M35.4 371.2h.5M35.8 371.2h.5M36.5 371.3h.5M37.1 371.3h.5M25.0 371.5h.5M28.5 371.6h.5M29.3 371.5h.5M30.4 371.4h.5M31.2 371.5h.5M40.0 371.4h.5M41.4 371.4h.5M78.4 371.6h.5M22.3 371.8h.5M33.8 371.8h.5M39.0 371.6h.5M40.0 371.7h.5M31.3 371.9h.5M31.8 372.0h.5M35.5 371.9h.5M36.4 371.9h.5M20.6 372.3h.5M25.2 372.2h.5M25.5 372.1h.5M29.5 372.3h.5M31.1 372.2h.5M32.1 372.3h.5M19.1 372.4h.5M37.8 372.6h.5M34.1 373.1h.5M27.8 373.2h.5M31.0 373.1h.5M22.3 373.5h.5M78.5 373.5h.5M23.1 373.7h.5M25.3 374.1h.5M21.0 374.5h.5M27.0 374.5h.5M18.8 374.8h.5M21.4 375.0h.5M24.0 375.0h.5M21.7 375.3h.5M22.5 375.2h.5M24.6 375.1h.5M87.8 377.2h.5M77.1 378.4h.5M83.7 378.5h.5M77.0 379.2h.5M76.8 379.5h.5M77.6 379.5h.5M78.4 379.6h.5M77.4 379.9h.5M76.5 380.1h.5M76.2 380.6h.5M77.6 380.9h.5M77.8 380.9h.5M57.8 381.2h.5M60.1 381.2h.5M75.9 381.5h.5M59.4 382.2h.5M57.6 382.4h.5M78.5 382.5h.5M57.1 382.7h.5M59.3 382.8h.5M57.4 383.3h.5M57.7 383.3h.5M74.8 383.3h.5M88.2 383.3h.5M58.4 383.6h.5M58.7 383.6h.5M59.9 383.4h.5M77.7 383.4h.5M82.7 383.4h.5M92.8 383.4h.5M57.7 384.0h.5M75.0 383.9h.5M76.1 384.2h.5M75.7 385.0h.5M78.5 385.0h.5M59.9 385.1h.5M76.6 385.3h.5M59.2 385.5h.5M76.5 385.8h.5M59.0 386.5h.5M58.7 386.6h.5M72.0 386.8h.5M73.8 386.9h.5M58.5 387.1h.5M75.8 387.2h.5M70.4 387.7h.5M82.4 387.9h.5M96.1 388.0h.5M70.4 388.2h.5M59.0 388.6h.5M81.8 388.6h.5M59.7 388.9h.5M61.0 388.9h.5M62.1 388.9h.5M64.8 389.1h.5M66.7 388.9h.5M73.3 389.0h.5M59.9 389.5h.5M60.2 389.8h.5M65.4 389.7h.5M67.5 389.7h.5M69.9 389.6h.5M61.7 389.9h.5M64.7 389.9h.5M84.4 389.9h.5M71.4 390.3h.5M73.6 390.2h.5M64.3 390.4h.5M59.8 390.7h.5M62.4 390.9h.5M71.9 391.0h.5M95.9 391.0h.5M59.8 391.1h.5M60.5 391.2h.5M66.2 391.3h.5M67.2 391.3h.5M75.0 391.6h.5M62.4 392.1h.5M63.3 392.0h.5M73.7 392.1h.5M57.9 392.3h.5M72.3 392.1h.5M66.4 392.8h.5M67.5 392.9h.5M89.3 393.2h.5M90.5 393.3h.5M68.5 393.6h.5M69.5 393.4h.5M78.8 393.5h.5M66.6 393.7h.5M77.4 393.8h.5M57.5 394.1h.5M59.3 394.0h.5M64.6 394.5h.5M69.5 394.6h.5M86.0 394.4h.5M57.8 394.6h.5M64.8 394.7h.5M64.3 395.2h.5M65.4 395.1h.5M77.3 395.3h.5M57.6 395.5h.5M58.3 395.4h.5M61.4 395.5h.5M65.4 395.4h.5M61.5 395.8h.5M63.9 396.1h.5M66.0 396.0h.5M85.1 396.1h.5M61.3 396.2h.5M63.3 396.3h.5M74.7 396.4h.5M57.3 396.7h.5M61.1 396.7h.5M57.9 396.9h.5M64.3 397.0h.5M68.4 397.1h.5M85.6 397.1h.5M59.7 397.8h.5M58.3 398.1h.5M69.3 398.1h.5M57.6 398.2h.5M67.6 398.1h.5M74.8 398.2h.5M56.7 398.6h.5M60.6 398.5h.5M58.2 398.7h.5M58.6 398.8h.5M56.6 399.0h.5M59.5 399.0h.5M62.7 399.0h.5M75.5 399.0h.5M58.5 399.6h.5M68.9 399.8h.5M57.2 400.0h.5M85.0 399.9h.5M59.0 400.3h.5M63.0 400.2h.5M58.9 400.6h.5M63.1 400.7h.5M59.0 400.9h.5M56.5 401.3h.5M60.7 401.1h.5M60.9 401.1h.5M59.5 401.6h.5M60.8 401.5h.5M56.8 401.8h.5M57.3 402.0h.5M57.7 401.9h.5M81.7 401.9h.5M63.8 402.1h.5M79.5 402.4h.5M74.0 402.8h.5M63.1 403.1h.5M63.4 403.0h.5M65.8 403.0h.5M81.1 403.1h.5M57.4 403.8h.5M66.5 403.8h.5M55.8 403.9h.5M66.2 404.0h.5M65.0 404.1h.5M59.5 405.1h.5M67.7 405.3h.5M57.3 405.5h.5M83.3 405.6h.5M57.8 405.6h.5M81.3 405.7h.5M55.6 406.1h.5M56.4 405.9h.5M59.0 405.9h.5M69.7 406.1h.5M58.7 406.2h.5M72.1 406.1h.5M54.9 406.4h.5M61.5 406.6h.5M59.6 406.7h.5M57.6 407.1h.5M58.5 407.1h.5M62.6 407.2h.5M54.4 407.4h.5M76.8 407.6h.5M58.0 407.8h.5M58.8 407.7h.5M60.1 407.7h.5M64.0 408.1h.5M71.8 408.3h.5M72.7 408.3h.5M74.9 408.2h.5M54.5 408.4h.5M61.0 408.5h.5M54.4 408.7h.5M64.7 408.8h.5M69.3 409.1h.5M65.0 409.2h.5M66.6 409.8h.5M62.3 410.0h.5M54.7 410.2h.5M69.4 410.2h.5M53.8 410.6h.5M57.9 410.5h.5M65.2 410.5h.5M60.1 410.7h.5M66.1 410.7h.5M77.4 411.0h.5M63.0 411.2h.5M63.3 411.2h.5M53.2 411.4h.5M70.3 411.6h.5M58.0 411.7h.5M63.4 411.6h.5M76.7 411.9h.5M79.3 411.9h.5M67.8 412.2h.5M53.3 412.6h.5M55.0 413.1h.5M59.7 413.2h.5M52.9 413.6h.5M56.0 413.6h.5M67.6 413.5h.5M71.7 413.5h.5M73.9 413.4h.5M75.4 413.4h.5M53.7 414.1h.5M59.7 414.1h.5M59.7 413.9h.5M67.7 414.1h.5M88.1 414.3h.5M53.7 414.7h.5M54.0 414.6h.5M57.4 414.8h.5M58.8 414.8h.5M68.2 414.7h.5M59.6 414.9h.5M79.7 414.9h.5M54.0 415.3h.5M68.2 415.3h.5M52.5 415.4h.5M58.2 415.5h.5M62.9 415.7h.5M56.4 415.9h.5M62.0 416.0h.5M66.2 416.0h.5M54.9 416.2h.5M55.2 416.8h.5M59.8 416.7h.5M59.2 417.0h.5M53.8 417.2h.5M54.1 417.2h.5M55.7 417.2h.5M59.9 417.2h.5M60.5 417.3h.5M61.7 417.1h.5M55.3 417.4h.5M52.7 417.7h.5M66.5 417.7h.5M76.7 417.6h.5M52.4 418.1h.5M60.1 418.1h.5M60.5 418.2h.5M63.4 418.3h.5M73.9 418.1h.5M57.0 418.7h.5M54.7 419.3h.5M58.6 419.4h.5M57.4 420.1h.5M58.4 420.6h.5M58.9 420.6h.5M62.3 420.5h.5M67.0 420.6h.5M53.3 421.3h.5M57.1 421.3h.5M52.8 421.5h.5M57.3 421.4h.5M60.5 421.5h.5M63.1 421.5h.5M58.6 421.6h.5M54.8 421.9h.5M54.2 422.1h.5M52.1 422.4h.5M54.4 422.5h.5M55.1 422.5h.5M57.1 422.6h.5M57.2 422.8h.5M56.1 422.9h.5M58.5 423.3h.5M51.9 423.5h.5M56.8 423.4h.5M62.2 423.5h.5M92.8 423.6h.5M61.2 423.7h.5M61.8 423.7h.5M67.0 423.7h.5M56.8 424.1h.5M60.5 424.1h.5M59.9 424.2h.5M61.1 424.3h.5M55.0 424.4h.5M61.4 424.6h.5M70.0 424.7h.5M63.5 424.9h.5M55.8 425.6h.5M55.6 425.6h.5M56.0 425.8h.5M58.4 425.8h.5M56.7 426.1h.5M57.6 425.9h.5M52.5 426.4h.5M54.1 426.8h.5M55.7 426.6h.5M58.9 426.7h.5M53.8 427.2h.5M65.6 427.3h.5M51.3 427.6h.5M54.8 427.8h.5M55.4 427.6h.5M52.1 428.0h.5M52.7 428.0h.5M54.6 427.9h.5M59.0 428.6h.5M63.8 428.4h.5M59.5 428.6h.5M63.3 428.6h.5M60.2 429.0h.5M62.3 429.2h.5M58.5 429.8h.5M58.7 429.6h.5M63.3 429.9h.5M65.6 430.8h.5M58.1 431.0h.5M29.1 431.6h.5M39.1 431.5h.5M40.0 431.4h.5M43.0 431.6h.5M20.9 431.6h.5M39.0 431.6h.5M39.5 431.8h.5M44.7 431.7h.5M45.6 431.7h.5M50.5 431.7h.5M51.3 431.7h.5M57.9 431.7h.5M20.2 431.9h.5M27.3 432.1h.5M31.3 431.9h.5M32.7 432.1h.5M38.7 431.9h.5M41.1 432.0h.5M43.8 432.0h.5M44.8 432.0h.5M45.0 431.9h.5M49.3 431.9h.5M57.7 432.0h.5M18.5 432.3h.5M41.6 432.3h.5M42.0 432.1h.5M45.9 432.2h.5M57.9 432.3h.5M23.9 432.4h.5M31.9 432.6h.5M34.4 432.4h.5M44.9 432.5h.5M64.2 432.4h.5M24.0 432.8h.5M32.1 432.7h.5M35.5 432.7h.5M43.1 432.8h.5M50.2 432.8h.5M57.6 432.6h.5M22.1 433.1h.5M22.4 433.1h.5M31.9 433.1h.5M52.8 433.0h.5M53.0 432.9h.5M53.3 432.9h.5M56.8 432.9h.5M57.2 433.1h.5" stroke="#333" stroke-width="0.55" fill="none" opacity="0.7"/>
<path d="M18.3 376.2L21.6 375.4L25.3 375.3L28.8 374.0L30.8 373.5L35.6 373.2L40.3 372.4L49.3 369.4L54.8 367.9L57.6 367.0L65.3 366.0L69.6 364.6L71.6 364.2L73.8 364.3L74.8 364.7L75.6 365.3L76.3 366.2L76.9 367.7L77.7 370.7L77.5 376.0L77.1 378.2L76.5 380.0L72.8 385.4L71.3 386.8L69.6 387.9L67.6 388.6L65.3 388.9L62.6 388.9L60.7 388.5L59.7 387.7L59.4 386.7L59.7 385.7L61.1 383.0L61.2 382.2L60.9 381.5L60.1 380.7L58.8 380.3L56.9 380.7L56.2 381.5L56.5 382.5L58.2 385.0L58.5 386.2L58.5 387.7L56.7 398.0L53.3 410.4L52.7 413.7L51.9 416.7L51.7 423.5L51.1 427.0L51.3 427.7L52.1 428.1L56.3 427.9L57.3 428.2L58.0 429.0L58.2 429.7L58.0 430.7L57.5 431.5L56.8 431.9L56.1 432.1L50.8 431.5L46.3 431.6L41.1 431.2L34.8 431.7L28.6 431.3L23.1 431.8L19.8 431.5L18.3 430.8" stroke="#303030" stroke-width="0.46" fill="none" stroke-linejoin="round"/>
<path d="M18.3 378.2L21.6 377.4L25.6 377.2L30.1 375.9L35.8 375.6L40.8 374.7L45.8 372.3L48.1 371.5L55.1 370.0L57.8 369.1L65.3 367.8L70.1 365.9L71.6 365.5L73.6 365.7L75.0 366.7L76.0 368.7L76.6 371.7L76.8 374.0L76.6 375.7L76.2 377.7L75.4 379.7L71.5 385.0L70.1 386.2L68.3 387.0L66.1 387.6L63.8 387.8L62.6 387.7L61.6 387.1L61.2 386.5L61.3 385.7L62.8 383.0L63.1 381.7L62.7 380.2L61.6 379.2L60.3 378.9L58.6 378.7L54.3 379.5L53.3 380.0L53.5 380.5L57.3 384.5L57.7 385.2L57.8 386.2L57.2 390.7L56.4 394.0L56.0 397.2L54.2 404.5L52.8 409.1L52.0 414.2L51.3 416.2L50.8 421.0L51.0 424.2L50.5 426.2L49.8 427.3L49.1 427.9L47.5 428.5L46.6 429.3L45.8 429.5L39.6 429.4L35.3 430.3L28.8 429.7L24.8 430.5L23.1 430.6L20.1 430.1L18.3 429.5" stroke="#303030" stroke-width="0.46" fill="none" stroke-linejoin="round"/>
<path d="M18.3 380.2L22.1 379.2L26.1 378.9L29.6 378.0L36.1 377.9L41.1 376.8L42.3 376.3L46.8 373.7L48.3 373.1L54.3 372.3L57.6 371.6L60.3 371.4L65.8 369.3L70.1 367.3L71.6 366.9L73.1 367.1L74.2 368.0L75.1 369.7L75.7 372.2L75.8 374.2L75.6 376.0L75.0 378.0L74.1 379.7L70.1 384.6L68.6 385.5L66.8 386.2L64.3 386.5L63.6 386.3L63.2 386.0L63.1 385.5L63.3 385.0L64.7 382.7L64.9 381.2L64.5 379.7L63.9 378.5L63.1 377.5L62.1 376.8L60.8 376.7L56.8 377.3L52.8 377.6L51.3 378.0L50.4 378.7L50.7 379.2L53.6 381.4L56.7 384.2L57.2 385.0L57.4 386.0L57.0 389.5L56.5 392.5L56.1 393.7L55.9 395.2L54.2 403.2L52.3 409.4L51.6 414.0L51.0 416.0L50.4 421.0L50.7 424.0L50.2 425.7L49.6 426.7L47.8 427.5L46.6 427.7L45.3 427.4L44.1 428.1L42.8 428.3L38.3 428.2L34.3 428.8L30.3 428.2L28.3 428.1L23.8 429.2L22.3 429.1L20.3 428.6L18.3 428.6M24.2 390.5L24.6 389.2L24.2 388.2L24.4 387.7L25.8 388.1L29.3 388.0L29.9 387.7L30.3 386.8L31.3 385.7L31.5 384.2L31.3 383.8L30.8 383.5L30.3 383.5L28.9 384.5L25.6 384.9L23.6 386.3L21.6 386.5L19.4 387.5L18.7 389.5L19.1 390.0L20.8 390.3L22.1 389.2L22.8 389.6L23.8 390.7L24.2 390.5M18.3 392.2L19.6 392.2L19.8 392.0L19.1 391.2L18.3 391.0" stroke="#303030" stroke-width="0.46" fill="none" stroke-linejoin="round"/>
<path d="M68.3 383.5L67.6 383.5L67.2 383.0L66.2 379.7L64.2 375.5L64.0 374.5L64.1 373.5L64.9 372.0L66.7 370.5L70.3 368.6L71.3 368.3L72.3 368.4L73.1 368.8L73.7 369.5L74.6 371.5L75.0 373.7L74.7 376.2L73.9 378.2L72.8 379.7L69.8 382.6L68.3 383.5M18.3 393.6L19.3 393.8L20.5 393.7L21.1 392.2L21.8 391.7L23.3 392.6L25.3 392.1L27.6 390.7L27.8 390.2L27.4 389.2L28.1 388.8L29.3 388.7L30.4 389.5L31.1 389.5L31.5 388.7L31.7 387.5L32.8 386.7L33.6 385.1L35.1 383.7L38.1 383.9L39.8 382.9L41.6 382.8L43.6 381.5L45.3 381.1L48.1 380.2L50.1 380.0L51.1 380.2L53.1 381.5L54.1 382.9L56.1 384.0L56.8 384.7L57.0 385.2L56.9 388.5L56.2 392.2L53.7 403.7L52.1 408.7L51.7 411.7L50.8 415.7L50.1 420.7L50.4 424.0L49.9 425.5L49.5 426.2L48.6 426.8L47.6 427.2L46.6 427.2L45.1 426.7L43.8 427.4L42.3 427.8L37.8 427.6L34.3 428.0L32.8 427.7L31.6 427.6L30.6 427.3L27.6 427.1L23.8 428.3L20.3 427.8L18.3 428.0" stroke="#303030" stroke-width="0.46" fill="none" stroke-linejoin="round"/>
<path d="M69.8 380.5L68.6 380.4L67.2 379.0L65.9 376.5L65.6 375.2L65.6 374.2L66.5 372.5L68.1 371.0L70.1 369.8L71.1 369.6L71.8 369.6L72.8 370.1L73.7 371.5L74.2 373.2L74.1 375.2L73.5 377.2L72.6 378.7L71.3 379.8L69.8 380.5M18.3 394.4L20.6 395.5L22.6 395.7L23.1 395.5L24.4 394.7L24.8 393.6L26.3 392.9L27.0 391.7L28.3 391.0L28.8 389.7L29.3 389.6L30.6 390.2L31.3 389.9L31.9 389.2L32.3 387.7L33.3 386.9L34.1 385.7L35.3 384.8L36.1 384.6L38.2 384.5L39.8 383.5L41.6 383.6L43.6 382.1L45.6 381.6L47.8 380.7L50.3 380.5L51.6 380.9L53.1 381.8L53.8 383.4L55.6 383.9L56.3 384.5L56.8 385.2L56.7 388.7L55.4 395.0L53.5 403.7L51.8 408.7L51.5 411.5L50.6 415.7L50.1 419.0L49.9 420.7L50.1 424.0L49.8 425.2L49.3 425.9L48.3 426.6L47.3 426.9L46.6 426.9L45.1 426.3L43.6 427.0L42.3 427.4L37.6 427.1L34.6 427.5L31.1 426.4L28.6 426.2L27.1 426.4L24.1 427.6L20.3 427.1L18.3 427.4M47.1 386.7L48.1 386.2L46.9 386.2L46.6 386.7L47.1 386.7M46.5 391.5L46.7 391.2L46.6 390.7L45.6 389.0L45.1 388.9L44.5 390.5L44.6 391.0L45.6 391.6L46.5 391.5M34.1 408.2L34.7 408.0L34.9 407.7L34.8 407.5L33.5 408.2L34.1 408.2M38.7 410.5L38.6 410.0L38.3 409.7L36.0 409.2L36.3 409.9L36.7 410.2L38.3 410.6L38.7 410.5M32.6 411.7L33.3 411.5L33.8 411.0L33.9 410.7L33.5 410.2L32.3 409.8L32.1 410.8L32.3 411.7L32.6 411.7M26.9 418.5L28.1 417.8L28.4 417.2L29.4 416.5L30.6 415.0L31.3 413.5L31.3 413.0L31.1 412.7L26.3 411.7L25.1 411.9L24.2 412.5L24.0 413.0L23.9 413.7L25.6 418.0L26.1 418.5L26.9 418.5" stroke="#303030" stroke-width="0.46" fill="none" stroke-linejoin="round"/>
<path d="M70.6 379.3L69.3 379.4L68.1 378.6L66.9 376.7L66.6 375.0L67.1 373.5L68.4 372.0L69.8 370.9L71.3 370.5L72.3 370.8L73.1 371.7L73.5 373.0L73.6 374.5L73.4 376.0L72.7 377.5L71.8 378.5L70.6 379.3M18.3 404.9L19.8 405.1L20.8 403.7L21.3 403.4L21.7 403.7L21.6 404.5L22.0 405.0L22.6 405.0L23.6 404.8L24.8 405.6L25.6 405.3L25.8 404.7L25.6 403.5L26.8 402.2L26.5 400.7L26.6 399.7L26.8 399.4L27.6 399.3L29.6 399.5L30.0 399.0L29.0 397.2L27.3 395.5L26.6 395.0L26.3 394.2L27.7 393.2L27.9 392.2L28.6 391.7L29.4 390.7L31.3 390.5L32.1 389.5L32.8 387.8L34.3 386.3L36.1 385.1L38.3 384.8L39.8 383.9L41.8 383.9L43.6 382.4L45.7 382.0L47.6 381.1L50.3 380.8L51.3 381.1L52.6 381.7L53.0 382.2L53.6 383.6L55.3 384.0L56.5 385.0L56.6 385.7L56.4 389.2L53.4 403.5L51.6 408.5L51.4 411.2L49.8 419.0L49.9 424.0L49.6 425.0L49.2 425.7L48.3 426.3L47.1 426.6L46.3 426.5L45.1 426.0L42.6 427.0L37.8 426.7L35.3 427.0L34.6 427.0L31.6 425.9L27.8 425.5L24.3 426.8L20.6 426.5L18.3 427.0M46.7 387.5L47.8 386.9L48.8 386.9L49.1 386.5L48.9 386.0L48.6 385.7L48.1 385.7L46.6 386.0L46.2 386.5L46.1 387.2L46.3 387.6L46.7 387.5M35.5 389.5L36.1 389.2L36.2 388.7L35.6 388.1L35.1 388.1L34.7 388.7L34.8 389.2L35.5 389.5M46.6 391.7L46.9 391.5L47.0 391.0L46.4 390.0L45.8 388.5L45.3 388.2L44.6 388.4L44.3 388.7L44.3 389.7L43.8 390.5L43.9 391.0L45.3 391.9L46.6 391.7M49.4 388.7L49.3 388.2L49.1 388.0L48.8 388.1L48.7 388.5L48.8 388.7L49.4 388.7M45.3 393.7L45.6 393.5L45.6 393.2L45.1 392.9L44.8 393.3L45.3 393.7M18.3 395.2L20.1 396.1L21.5 396.5L22.8 397.1L23.3 396.9L24.1 396.0L24.6 395.8L25.6 396.0L25.9 396.2L26.0 396.7L25.3 398.5L24.6 399.0L23.1 399.5L22.8 400.4L21.6 400.5L20.3 401.8L19.3 401.6L18.3 401.7M27.4 424.2L27.8 423.7L27.9 423.2L27.1 421.2L27.5 420.7L29.1 419.5L28.9 418.0L29.4 417.2L30.3 416.6L32.3 415.8L34.8 416.4L35.8 416.9L36.3 416.8L36.5 416.5L36.6 415.9L36.3 415.4L35.1 415.3L33.1 414.5L32.9 414.0L33.1 413.0L33.8 412.0L35.1 411.3L35.7 412.5L36.3 412.6L37.3 411.5L37.8 411.4L38.1 411.7L37.9 412.5L38.1 413.2L38.8 414.3L39.4 414.5L39.5 414.2L39.0 412.0L39.5 411.0L39.5 410.5L39.1 409.6L37.5 408.7L37.3 408.2L37.8 407.6L38.3 407.3L40.1 407.8L40.5 407.7L40.8 407.2L40.8 406.7L40.4 406.2L39.8 406.1L39.3 406.2L38.3 406.9L37.8 406.9L35.3 405.5L34.7 404.0L34.7 403.5L35.1 402.9L37.0 402.2L36.8 401.4L36.3 401.0L35.3 401.3L34.1 402.8L33.7 406.0L32.6 407.1L31.3 407.7L30.3 409.0L29.8 408.8L29.1 408.2L28.6 408.0L28.1 408.4L27.6 409.6L27.1 409.9L25.6 409.6L24.8 408.8L24.3 408.8L23.9 409.2L23.5 410.5L23.1 410.9L21.8 411.1L20.8 411.5L19.6 411.5L19.0 412.0L18.9 412.5L19.1 413.0L19.6 413.2L20.8 413.4L21.2 413.7L21.1 414.6L20.1 415.3L19.6 416.0L19.8 416.7L21.6 417.8L22.6 417.8L22.8 418.5L22.7 419.5L23.2 420.2L23.6 421.3L24.1 421.6L26.1 421.6L26.2 422.0L26.0 423.5L26.2 424.0L26.8 424.4L27.4 424.2M45.6 405.7L45.9 405.5L45.6 405.1L45.3 405.2L45.3 405.5L45.6 405.7M31.3 422.2L31.6 421.6L32.1 421.7L32.6 421.5L32.6 420.9L32.2 420.7L31.6 421.4L30.4 421.5L30.3 422.0L30.5 422.2L31.3 422.2" stroke="#303030" stroke-width="0.46" fill="none" stroke-linejoin="round"/>
<path d="M70.3 378.8L69.1 378.6L68.1 377.7L67.5 376.2L67.4 375.0L67.9 373.7L69.0 372.2L70.1 371.4L71.3 371.1L72.1 371.4L72.8 372.3L73.2 373.5L73.2 375.0L72.7 376.5L72.2 377.5L71.3 378.3L70.3 378.8M42.8 426.7L42.1 426.8L37.8 426.3L36.3 426.7L35.3 426.7L32.8 426.1L31.6 425.5L29.6 425.5L28.6 425.1L28.2 424.7L28.4 423.7L29.1 423.0L31.8 423.2L32.9 422.5L33.4 421.7L33.3 421.0L32.6 420.2L32.1 420.2L31.1 420.4L30.2 420.0L30.2 418.7L29.9 418.0L30.2 417.2L31.6 416.5L32.6 416.3L34.1 416.6L35.6 417.3L36.3 417.3L36.7 417.0L36.9 416.2L36.6 414.0L37.3 413.4L39.1 415.0L39.8 415.0L40.3 414.7L40.4 414.5L39.7 413.5L39.5 412.7L39.6 412.1L40.1 411.2L40.1 410.5L39.4 409.0L38.6 408.6L38.5 408.2L39.1 408.1L39.8 408.5L40.6 408.3L41.1 407.8L41.3 406.5L41.1 406.0L40.3 405.7L39.6 405.7L38.3 406.3L37.6 406.2L35.8 405.0L35.3 404.0L35.6 403.2L36.3 403.0L37.6 403.4L37.9 403.0L37.2 401.0L36.8 400.6L33.8 400.6L33.2 402.7L33.3 405.2L33.0 406.0L32.4 406.5L30.3 407.5L30.1 407.5L29.1 406.8L28.6 406.9L27.8 407.5L27.1 408.7L26.8 408.8L26.6 408.7L26.4 408.2L26.6 407.2L26.5 406.5L27.0 405.5L26.8 404.0L27.1 403.5L28.2 402.7L28.1 400.7L28.5 400.5L30.2 400.2L30.8 399.6L30.6 396.2L29.2 395.2L28.8 394.5L29.8 392.7L29.8 391.5L30.3 391.2L31.1 391.3L31.6 390.9L32.6 389.5L33.2 388.0L35.3 386.6L35.8 385.7L36.3 385.3L38.6 385.0L39.8 384.2L41.8 384.1L43.6 382.7L45.8 382.2L47.8 381.3L50.6 381.1L51.6 381.4L52.5 382.0L53.1 383.2L53.6 383.9L55.3 384.2L56.3 385.0L56.5 385.5L56.4 389.0L53.2 403.7L52.0 407.2L51.4 408.5L51.3 411.2L50.6 413.7L50.2 417.2L49.6 419.2L49.8 423.7L49.7 424.5L49.1 425.5L48.1 426.1L46.6 426.4L45.1 425.8L42.8 426.7M45.8 394.2L46.2 393.7L45.7 392.5L47.3 391.5L47.2 391.0L46.4 389.5L46.4 388.7L46.6 388.2L47.6 387.4L48.1 387.3L48.3 387.5L48.1 388.5L48.5 389.0L49.3 389.3L49.7 389.2L49.9 389.0L49.5 387.7L49.4 386.0L49.1 385.4L47.1 385.5L46.5 385.7L45.6 387.5L43.7 388.5L43.6 388.7L43.7 389.5L43.3 390.0L42.8 390.4L42.1 390.3L41.6 390.8L41.6 391.9L42.1 392.7L42.6 392.7L43.1 391.7L43.6 391.7L44.4 392.2L44.4 393.2L44.8 394.0L45.3 394.4L45.8 394.2M35.6 389.7L36.3 389.5L36.6 389.0L35.6 387.8L35.1 387.5L34.6 388.1L34.4 389.2L34.9 389.7L35.6 389.7M41.6 389.0L41.3 388.5L40.8 388.5L40.7 388.7L41.0 389.0L41.6 389.0M37.1 395.0L37.2 394.5L36.9 393.5L36.3 393.1L35.7 393.2L35.5 393.7L35.8 394.4L36.6 395.0L37.1 395.0M18.3 396.1L19.6 396.8L21.1 397.2L21.8 397.7L22.0 398.2L21.0 399.0L20.2 400.5L18.3 400.7M18.3 399.2L19.0 398.5L18.8 398.1L18.3 398.0M38.5 400.0L38.7 399.7L38.5 399.2L37.8 398.9L37.3 399.0L37.1 399.5L37.3 400.0L37.8 400.2L38.5 400.0M45.9 406.0L46.1 405.7L46.1 405.2L45.8 404.9L45.3 404.9L45.1 405.2L45.1 405.8L45.3 406.0L45.9 406.0M18.3 406.2L20.3 407.1L21.6 406.1L23.3 405.9L24.1 406.4L24.6 407.2L22.3 410.1L19.6 410.4L18.3 409.9M45.0 412.5L44.9 412.0L44.6 411.6L44.1 411.7L43.9 412.0L44.1 412.5L44.6 412.6L45.0 412.5M35.6 414.5L35.1 414.7L34.2 414.2L34.0 413.5L34.3 413.0L34.8 413.0L35.5 413.5L35.8 414.0L35.6 414.5M18.3 413.7L19.0 414.0L19.4 414.5L19.1 415.2L18.3 416.0M18.3 416.5L20.3 418.2L19.3 419.1L19.3 420.3L20.1 420.5L21.6 420.4L22.1 420.6L22.6 421.5L22.3 422.7L22.6 423.0L24.1 422.8L24.7 423.0L26.0 425.2L25.7 425.7L24.8 426.1L21.8 425.8L18.3 426.6M35.7 421.7L35.5 421.2L35.0 421.5L35.3 421.8L35.7 421.7M36.6 422.7L36.6 422.4L36.1 422.2L36.3 422.7L36.6 422.7" stroke="#303030" stroke-width="0.46" fill="none" stroke-linejoin="round"/>
<path d="M70.6 378.2L69.6 378.3L68.8 377.7L68.2 376.7L68.0 375.2L68.5 373.7L69.3 372.5L70.3 371.8L71.3 371.6L72.1 372.0L72.6 372.7L72.9 373.7L72.9 374.7L72.7 375.7L72.1 377.0L71.3 377.8L70.6 378.2M42.8 426.5L42.1 426.6L37.8 426.0L36.3 426.5L35.6 426.5L32.8 425.8L31.8 425.1L29.8 425.3L28.7 424.7L28.6 424.2L29.1 423.6L29.6 423.5L32.1 423.6L33.1 422.9L34.1 422.5L35.1 422.5L36.3 423.3L36.8 423.3L37.1 423.0L37.1 422.0L36.5 421.2L36.3 420.1L36.1 419.9L34.8 420.8L34.1 421.0L32.6 419.8L31.1 419.8L30.9 419.2L31.4 418.2L31.5 417.5L31.8 417.3L32.3 417.7L32.6 417.7L33.1 417.0L33.8 416.9L35.8 417.8L36.6 417.8L37.2 416.7L37.2 414.7L37.6 414.2L39.3 415.4L40.3 415.2L40.9 414.7L41.3 413.5L40.6 412.5L40.7 411.0L40.4 409.5L40.6 409.0L41.3 408.3L41.8 406.5L41.5 405.7L40.8 405.3L39.6 405.4L38.3 405.8L37.7 405.7L37.0 405.2L36.1 404.0L36.3 403.7L37.1 404.1L37.6 404.1L38.1 403.7L38.3 402.7L37.8 401.5L37.8 401.0L39.2 400.0L39.2 399.5L38.9 399.0L38.1 398.5L37.1 398.6L36.6 399.0L36.3 399.9L35.6 400.1L34.6 399.8L33.8 398.7L32.6 399.2L32.0 399.2L31.6 398.5L31.6 396.2L30.3 395.0L29.9 394.2L30.1 393.7L31.3 392.4L32.3 390.4L33.5 389.2L33.5 388.5L33.8 388.2L34.0 388.5L33.9 389.2L34.8 390.0L35.3 390.1L36.9 389.5L36.8 388.7L35.9 387.7L35.7 387.2L36.0 386.0L36.3 385.6L37.1 385.4L38.6 385.3L40.1 384.4L42.0 384.2L43.6 382.9L45.8 382.5L48.1 381.4L50.3 381.3L52.2 382.0L52.6 382.4L53.0 383.5L53.6 384.1L55.3 384.3L56.2 385.0L56.4 385.7L56.2 389.2L53.1 403.5L51.9 407.2L51.2 408.5L51.1 411.2L50.4 414.0L50.0 417.2L49.5 419.0L49.7 423.7L49.5 424.5L48.9 425.5L48.1 425.9L46.6 426.1L45.1 425.6L42.8 426.5M43.2 396.0L43.2 395.0L42.7 393.7L43.3 393.1L43.6 393.1L44.1 393.6L44.6 394.5L44.8 395.2L45.1 395.4L46.9 394.2L46.4 392.5L47.3 392.0L47.6 391.5L46.7 389.7L46.9 388.7L47.3 388.5L47.6 388.6L48.8 389.5L50.1 389.5L50.3 389.3L49.8 387.7L49.8 385.9L49.6 384.9L49.3 384.7L48.3 385.1L46.3 385.4L45.1 387.5L42.8 388.6L42.3 388.7L41.1 388.1L40.6 388.2L40.3 388.4L40.3 388.8L41.3 390.0L41.1 391.7L41.8 393.7L41.3 394.5L41.3 394.7L42.8 396.0L43.1 396.1L43.2 396.0M41.6 397.7L42.1 397.5L42.1 397.0L41.1 396.7L39.8 396.0L39.1 394.4L37.9 394.0L37.4 393.2L36.8 392.9L35.6 392.8L35.1 393.1L34.9 394.0L35.5 395.5L34.7 396.5L34.6 397.3L35.1 397.2L36.1 396.1L36.6 396.0L38.8 396.7L40.1 397.4L41.6 397.7M48.9 396.7L48.6 396.4L47.7 396.5L47.8 396.7L48.3 396.9L48.9 396.7M31.1 403.2L29.4 402.5L29.1 401.7L29.3 401.3L30.0 401.2L31.4 402.0L31.5 402.5L31.1 403.2M31.1 406.0L30.6 406.1L30.2 406.0L29.8 405.0L30.1 404.3L31.1 403.2L31.7 403.7L31.9 405.0L31.7 405.5L31.1 406.0M46.1 406.2L46.4 405.7L46.4 405.2L46.0 404.7L45.3 404.6L44.9 405.2L44.8 406.2L45.3 406.3L46.1 406.2M18.3 407.0L18.8 407.2L19.0 407.5L18.8 408.0L18.3 408.3M22.1 409.1L21.8 409.1L21.7 408.7L22.2 407.2L22.6 406.8L23.1 406.8L23.3 407.0L23.3 407.5L22.1 409.1M45.4 412.7L45.1 411.7L44.6 411.3L44.0 411.5L43.5 412.2L43.6 412.7L43.8 412.8L45.1 412.9L45.4 412.7M46.6 417.0L46.7 416.5L46.6 416.1L46.1 416.0L45.8 416.7L46.3 417.1L46.6 417.0M18.3 421.6L19.6 421.3L21.1 421.6L21.2 421.7L20.6 423.3L21.6 423.8L21.9 424.2L21.6 424.7L21.1 425.0L18.3 426.2" stroke="#303030" stroke-width="0.46" fill="none" stroke-linejoin="round"/>
<path d="M70.8 377.7L69.8 377.9L69.1 377.5L68.5 376.5L68.4 375.5L68.6 374.2L69.2 373.2L70.1 372.4L71.1 372.0L71.7 372.2L72.2 372.7L72.5 373.5L72.6 374.5L72.1 376.5L71.5 377.2L70.8 377.7M43.1 426.2L41.8 426.4L37.8 425.8L36.3 426.3L35.6 426.3L33.1 425.6L32.4 425.0L32.4 424.0L33.3 423.1L34.8 422.9L36.6 423.6L37.3 423.2L37.5 422.7L37.5 421.7L37.0 421.0L36.9 419.7L36.4 418.7L37.3 417.7L37.6 417.0L37.7 415.2L38.1 415.2L38.8 415.8L39.3 415.9L40.3 415.5L41.3 414.7L42.2 413.2L41.4 412.5L41.2 412.0L41.3 409.5L41.8 409.1L43.0 409.0L43.3 408.5L43.1 408.3L42.1 408.3L41.9 408.0L42.1 406.2L41.3 404.7L38.6 405.2L38.1 405.0L38.6 404.2L38.7 403.5L38.3 401.2L39.9 400.0L39.7 399.2L38.3 398.1L37.3 398.1L35.8 398.5L35.6 398.5L35.5 398.0L36.1 397.1L36.8 396.8L38.8 397.4L40.3 398.2L41.3 398.2L42.4 397.7L44.1 395.8L45.1 395.8L46.1 395.3L47.1 395.0L47.4 394.0L47.0 392.7L47.8 392.4L48.1 392.0L47.8 391.0L47.1 389.9L47.1 389.3L47.6 389.1L48.8 389.8L50.9 389.7L50.1 388.0L50.3 386.2L49.9 384.2L49.6 384.0L48.1 384.9L46.3 385.0L45.9 385.5L45.1 387.1L42.8 388.2L42.3 388.3L40.8 387.8L40.1 388.2L40.1 388.8L40.9 390.0L40.8 391.5L41.1 393.0L40.8 393.6L40.3 394.0L39.6 394.0L38.1 392.7L35.3 392.4L34.8 392.6L33.5 395.0L32.8 395.5L32.3 395.5L31.5 395.2L31.0 394.7L30.9 394.2L31.6 393.2L32.6 390.8L33.1 390.2L33.8 390.0L35.1 390.5L37.2 389.7L37.1 388.7L36.1 387.5L36.3 386.2L36.6 385.8L37.3 385.6L38.6 385.8L39.9 384.7L42.1 384.4L43.6 383.1L46.1 382.6L48.3 381.6L50.3 381.6L52.0 382.2L52.7 383.5L53.3 384.3L53.8 384.5L55.1 384.4L56.0 385.0L56.3 385.7L56.1 389.0L52.9 403.7L51.9 407.0L51.0 408.5L51.0 411.2L50.3 413.7L49.9 417.2L49.3 419.2L49.6 423.7L49.4 424.5L48.8 425.4L48.1 425.8L46.6 425.9L45.1 425.4L43.1 426.2M44.1 395.1L43.8 395.0L43.8 394.4L44.1 394.5L44.1 395.1M49.2 397.0L49.1 396.5L48.8 396.1L47.3 396.0L47.2 396.5L47.6 397.0L48.8 397.2L49.2 397.0M48.1 403.0L48.4 402.7L48.5 402.5L48.1 402.2L47.7 402.7L48.1 403.0M44.2 407.0L46.1 406.6L46.5 406.2L46.7 405.5L46.1 404.5L45.3 404.4L44.9 404.7L44.3 405.9L43.5 406.7L43.8 407.1L44.2 407.0M45.9 413.0L45.1 411.3L44.6 411.0L43.7 411.5L42.8 413.0L43.3 413.1L45.6 413.1L45.9 413.0M46.6 417.2L46.9 416.7L46.9 416.2L46.3 415.2L46.1 415.2L45.5 415.7L45.4 416.5L45.8 417.1L46.6 417.2M34.6 420.3L33.8 420.3L32.7 419.0L34.3 417.8L35.5 418.5L35.1 419.2L34.9 420.0L34.6 420.3M18.3 422.3L19.3 422.1L19.7 422.2L19.7 422.5L19.1 423.1L18.3 423.1M30.8 425.0L29.6 425.0L29.1 424.7L29.0 424.2L29.6 423.8L30.9 424.0L31.3 424.2L31.4 424.5L30.8 425.0M18.3 424.2L18.8 424.4L19.1 425.0L18.9 425.5L18.3 425.8" stroke="#303030" stroke-width="0.46" fill="none" stroke-linejoin="round"/>
<path d="M70.6 377.5L69.8 377.5L69.1 377.0L68.8 376.2L68.7 375.2L69.0 374.2L69.6 373.3L70.3 372.6L71.1 372.4L71.6 372.6L72.1 373.2L72.3 374.7L71.8 376.5L71.3 377.0L70.6 377.5M32.6 394.6L32.0 394.5L32.3 393.5L32.3 392.5L32.8 391.2L33.3 390.6L34.1 390.5L35.1 391.4L36.1 390.4L37.6 390.3L37.3 388.5L36.4 387.5L36.8 386.2L37.6 386.0L38.8 386.7L39.2 386.5L39.5 385.5L39.8 385.1L40.8 384.7L42.1 384.7L43.8 383.2L46.3 382.8L48.8 381.7L49.8 381.8L50.5 382.2L50.5 382.7L50.2 383.2L47.8 384.5L46.6 384.5L45.8 384.9L45.2 386.5L44.6 387.1L42.6 388.0L40.8 387.6L39.9 388.0L39.8 388.7L40.6 390.2L40.6 392.7L40.3 393.4L39.8 393.5L39.3 393.3L38.3 392.0L36.3 392.3L35.5 392.0L35.1 391.6L32.6 394.6M43.1 426.0L42.3 426.2L40.8 426.1L37.8 425.5L36.3 426.1L35.6 426.1L33.1 425.3L32.8 425.0L32.8 424.2L33.1 423.7L33.8 423.3L35.1 423.3L36.6 423.9L37.1 423.7L37.7 423.2L38.3 421.5L37.5 420.5L37.4 419.0L37.6 418.8L38.3 419.0L38.6 418.7L38.1 417.7L38.2 417.2L38.6 416.7L40.3 415.8L42.3 414.2L43.8 413.5L45.1 413.3L46.3 413.7L46.5 413.5L46.4 413.0L45.3 411.2L44.8 410.8L43.8 411.0L42.3 412.5L41.8 412.3L41.6 411.7L42.0 410.0L43.6 409.0L44.2 407.5L44.8 407.1L46.3 406.9L46.8 406.5L47.0 405.7L46.6 404.7L45.8 404.2L45.1 404.3L44.1 405.7L42.8 406.3L42.3 405.7L41.9 404.5L41.6 404.1L41.1 403.9L39.8 404.2L39.3 403.8L39.2 401.5L39.6 401.0L40.7 400.5L40.7 399.0L42.7 398.0L44.3 396.4L46.3 395.7L46.7 396.0L47.3 397.1L48.8 397.4L49.3 397.3L49.5 396.7L49.1 396.0L47.8 395.5L47.6 395.2L47.9 393.5L48.5 392.5L47.9 390.2L50.1 390.1L51.8 390.8L52.3 390.7L52.3 390.0L50.8 388.9L50.3 387.7L50.7 386.5L50.4 385.0L50.6 384.1L51.1 383.7L52.1 383.5L53.1 384.7L52.3 385.7L52.0 386.7L52.6 386.8L53.1 386.2L53.2 385.7L53.1 385.0L54.6 384.5L55.3 384.6L55.9 385.0L56.1 385.5L56.1 388.5L54.8 395.0L54.1 397.5L53.5 401.0L52.8 403.7L51.8 407.0L50.7 408.5L50.9 409.5L50.9 411.2L50.1 414.0L49.8 417.2L49.2 419.2L49.4 424.0L49.0 425.0L48.3 425.5L46.6 425.7L45.3 425.2L43.1 426.0M50.8 393.5L51.1 393.4L51.3 393.0L51.2 392.5L50.8 392.3L50.5 393.0L50.8 393.5M48.2 403.2L48.6 403.0L48.8 402.5L48.6 402.1L48.1 401.9L47.6 402.2L47.4 403.0L47.6 403.2L48.2 403.2M46.5 417.5L46.9 417.2L47.1 416.5L46.6 414.7L46.3 414.5L45.3 415.0L44.3 415.0L44.9 416.7L45.8 417.4L46.5 417.5M46.6 420.5L46.5 420.0L46.1 419.4L45.3 419.5L45.4 419.7L46.1 420.5L46.3 420.6L46.6 420.5M30.3 424.8L29.8 424.8L29.4 424.5L29.6 424.2L30.1 424.2L30.6 424.5L30.3 424.8" stroke="#303030" stroke-width="0.46" fill="none" stroke-linejoin="round"/>
<path d="M70.8 377.0L70.1 377.1L69.6 376.9L69.1 376.2L69.0 375.2L69.3 374.2L69.8 373.5L70.3 373.0L71.1 372.9L71.8 373.5L72.1 374.7L71.7 376.0L70.8 377.0M49.3 383.3L48.3 383.5L47.4 383.2L48.4 382.2L49.2 382.0L49.8 382.2L49.9 382.5L49.7 383.0L49.3 383.3M42.8 387.5L42.3 387.7L39.9 387.2L39.8 386.2L39.9 385.5L40.8 385.0L42.1 385.0L43.8 383.4L44.6 383.3L46.6 383.5L45.3 385.0L44.8 386.5L42.8 387.5M42.3 426.0L40.1 425.9L37.6 425.2L36.3 425.8L35.3 425.8L33.6 425.2L33.3 425.0L33.2 424.5L33.4 424.0L34.1 423.6L35.1 423.5L36.8 424.1L38.4 423.2L39.4 421.0L39.1 420.5L38.5 420.2L38.5 420.0L39.9 418.2L39.7 418.0L39.1 417.7L39.0 417.2L41.3 415.4L42.6 414.6L43.3 414.8L43.7 415.5L43.7 415.7L43.0 416.2L42.9 416.7L43.5 418.0L43.8 420.0L45.1 420.1L46.1 421.2L46.6 421.1L46.9 420.7L46.9 420.2L46.3 419.3L45.8 418.9L44.8 418.8L44.1 417.7L44.6 417.3L46.6 417.7L47.1 417.2L47.2 416.5L46.8 414.7L46.8 413.0L45.1 410.6L44.1 410.5L42.8 411.3L42.6 411.0L42.8 410.2L43.8 409.3L44.6 407.7L45.1 407.5L46.6 407.4L47.1 407.1L47.3 406.5L47.3 405.5L46.6 404.0L45.8 403.8L44.7 404.2L43.8 405.6L43.3 405.7L42.8 405.6L42.4 404.5L41.4 403.2L41.1 402.2L41.1 401.7L42.1 400.2L42.1 400.0L41.6 399.5L41.6 399.2L42.2 398.7L43.1 398.4L43.9 399.0L45.3 399.6L45.8 400.3L47.6 400.5L47.8 400.2L47.9 399.7L46.0 398.5L44.2 397.7L44.1 397.5L44.6 396.7L46.1 396.1L46.3 396.2L47.1 397.4L48.3 397.6L49.1 398.0L49.3 398.2L49.1 399.0L49.3 399.0L49.3 398.2L49.7 397.2L49.7 396.5L49.3 395.7L48.3 395.1L48.3 394.7L48.9 392.7L48.8 390.7L49.8 390.3L50.5 390.5L51.6 391.1L52.3 391.0L52.6 390.7L52.6 390.1L52.3 389.7L50.8 388.5L50.6 388.0L50.8 387.5L51.3 387.1L52.1 387.3L52.6 387.1L53.3 386.2L53.8 385.0L54.6 384.7L55.3 384.8L56.0 385.5L55.9 389.0L54.7 395.0L54.0 397.2L53.4 401.0L52.5 404.5L51.7 407.0L50.5 408.2L50.8 409.5L50.7 411.2L50.0 414.0L49.7 417.2L49.1 418.7L49.0 420.0L49.2 421.5L49.2 424.2L48.8 425.0L48.1 425.4L46.6 425.4L45.3 425.0L42.3 426.0M51.3 386.0L51.0 385.2L51.3 384.8L51.8 385.0L51.9 385.2L51.7 385.7L51.3 386.0M39.8 392.2L39.6 392.2L38.1 390.2L37.6 388.2L36.9 387.5L37.1 386.9L37.6 386.9L39.5 387.5L39.5 388.7L40.2 390.2L39.8 392.2M37.1 391.8L36.6 392.0L36.1 391.8L35.8 391.5L35.9 391.0L36.3 390.7L36.8 390.7L37.3 391.2L37.1 391.8M33.6 392.6L33.1 392.6L32.9 392.2L33.3 391.4L33.8 391.1L34.1 391.2L34.2 391.7L34.0 392.2L33.6 392.6M51.2 393.7L51.5 393.2L51.5 392.7L51.3 392.1L50.8 391.9L50.2 392.5L50.2 393.2L50.6 393.8L51.2 393.7M48.3 403.5L48.9 403.0L49.0 402.5L48.6 401.8L47.8 401.6L47.2 402.5L47.0 403.5L47.6 403.7L48.3 403.5M48.1 409.2L48.3 408.7L47.8 408.2L47.1 408.1L46.6 408.5L46.6 409.0L46.8 409.2L48.1 409.2M45.6 414.5L44.8 414.6L44.2 414.0L44.6 413.7L45.5 413.7L45.7 414.0L45.6 414.5M42.6 422.5L42.8 422.3L42.9 422.0L42.6 421.7L42.3 422.0L42.6 422.5M45.8 423.5L45.9 422.7L45.6 422.0L45.1 422.3L44.9 423.0L45.3 423.6L45.8 423.5" stroke="#303030" stroke-width="0.46" fill="none" stroke-linejoin="round"/>
<path d="M70.8 376.6L70.3 376.7L69.8 376.6L69.4 375.5L69.8 374.0L70.3 373.5L70.8 373.3L71.5 373.7L71.8 374.7L71.5 375.7L70.8 376.6M44.3 386.1L43.6 386.1L42.8 385.2L43.3 384.2L44.1 383.8L44.7 384.0L44.9 384.2L44.6 385.7L44.3 386.1M48.1 425.3L46.6 425.1L45.7 424.5L46.1 423.5L46.2 422.0L47.1 421.0L47.3 420.5L46.1 418.6L45.2 418.2L45.3 418.0L46.1 418.1L46.6 418.0L47.2 417.2L47.3 416.2L47.1 414.7L47.1 413.2L46.4 411.5L46.5 410.2L46.8 409.9L48.1 409.6L48.6 409.0L48.5 408.5L47.8 407.5L47.7 404.5L49.1 403.0L49.1 402.0L48.2 401.0L48.2 400.7L48.6 400.2L49.9 399.2L50.1 397.5L49.9 396.0L49.0 394.5L49.0 394.0L49.3 393.2L49.6 393.0L49.9 393.7L50.6 394.2L51.1 394.2L51.6 393.7L51.8 393.0L51.6 391.7L52.6 391.0L52.8 390.2L52.3 389.3L51.2 388.5L51.1 388.0L51.3 387.7L52.6 387.5L53.3 386.6L54.0 385.2L54.6 384.9L55.1 384.9L55.6 385.1L55.9 385.5L55.8 389.0L55.3 390.7L54.5 395.2L53.8 397.5L53.4 400.7L51.9 406.0L51.4 407.2L50.2 408.2L50.6 409.5L50.6 411.2L49.8 414.0L49.5 415.7L49.5 417.2L49.1 418.5L48.7 420.2L49.1 421.5L49.2 424.0L48.8 424.8L48.1 425.3M41.6 387.0L40.8 387.0L40.4 386.7L40.3 386.0L40.6 385.5L41.1 385.3L41.7 385.7L42.0 386.7L41.6 387.0M39.6 390.6L38.8 390.5L38.2 389.7L38.0 388.7L38.3 387.9L38.8 387.9L39.1 388.2L39.7 390.0L39.6 390.6M49.6 392.9L49.3 391.2L49.6 390.9L50.1 390.8L50.5 391.2L49.6 392.9M45.8 397.7L45.3 397.7L44.9 397.2L45.3 396.8L45.8 396.6L46.1 396.7L46.3 397.2L45.8 397.7M48.3 399.0L47.8 399.1L47.3 398.9L47.0 398.5L47.0 398.0L47.8 397.7L48.5 398.0L48.6 398.5L48.3 399.0M43.6 405.1L43.3 405.0L42.3 403.5L42.3 403.1L43.1 402.5L43.1 402.2L42.3 401.2L43.2 399.7L43.8 399.5L44.9 400.0L45.3 401.4L46.3 400.8L46.8 400.8L47.3 401.2L47.1 402.0L46.3 402.9L45.8 402.8L45.3 402.2L45.0 403.5L44.0 404.2L43.6 405.1M45.1 410.0L44.6 409.9L44.3 409.5L44.8 408.4L45.1 408.2L45.6 408.2L45.8 408.6L45.9 409.7L45.1 410.0M42.6 425.7L41.3 425.8L39.8 425.6L37.3 424.5L37.8 424.0L38.8 423.5L39.2 423.0L40.0 420.7L39.8 419.5L40.5 418.2L40.1 417.0L40.2 416.7L41.3 415.6L42.3 415.3L42.8 415.5L42.6 416.7L43.1 418.2L43.3 420.0L42.9 420.7L41.6 421.1L41.5 422.0L42.1 422.7L42.8 422.9L43.4 422.2L43.6 421.0L44.3 420.6L45.1 420.6L45.3 421.2L44.7 422.2L44.6 423.0L44.8 423.5L45.5 424.2L45.5 424.5L44.6 425.1L42.6 425.7M36.1 425.5L35.3 425.6L34.3 425.2L33.7 424.7L33.7 424.2L34.1 423.9L34.8 423.7L36.2 424.2L36.8 424.7L36.5 425.2L36.1 425.5" stroke="#303030" stroke-width="0.46" fill="none" stroke-linejoin="round"/>
<path d="M70.8 376.0L70.3 376.1L70.1 376.0L69.8 375.2L70.1 374.4L70.8 373.9L71.2 374.2L71.4 374.7L71.2 375.5L70.8 376.0M48.3 425.0L47.6 425.1L46.8 425.0L46.5 424.7L46.2 424.2L46.4 422.2L47.8 420.5L46.9 419.5L46.6 418.5L47.3 417.5L47.5 416.5L47.2 414.5L47.3 410.7L47.6 410.2L48.6 409.5L48.8 408.7L48.2 407.5L48.2 405.5L48.4 404.5L49.4 402.7L49.0 400.7L50.3 399.2L50.5 396.0L51.9 393.7L52.0 392.0L52.9 390.7L52.8 389.7L52.1 388.5L52.2 388.2L53.1 387.3L54.1 385.5L54.6 385.1L55.1 385.0L55.6 385.3L55.7 385.7L55.7 388.7L54.4 395.0L53.6 397.5L53.3 400.7L52.5 403.0L51.6 406.7L51.1 407.4L50.1 407.8L49.9 408.2L50.5 409.5L50.5 411.0L49.3 415.5L49.4 417.2L48.3 420.2L48.9 421.5L49.1 423.7L48.9 424.5L48.3 425.0M44.1 402.0L43.6 401.5L43.4 401.0L43.6 400.5L44.1 400.2L44.5 400.5L44.6 401.0L44.3 401.9L44.1 402.0M46.3 402.0L46.2 401.7L46.3 401.4L46.6 401.4L46.7 401.7L46.3 402.0M42.6 420.0L42.1 420.2L41.3 420.1L40.6 419.5L40.9 418.0L40.7 416.7L41.0 416.2L41.6 415.9L42.1 415.9L42.2 416.2L42.8 419.2L42.6 420.0M42.3 425.5L40.1 425.5L38.9 425.0L38.5 424.5L40.3 422.3L42.3 423.3L42.8 423.3L43.8 422.7L44.1 422.7L44.8 424.0L44.9 424.5L44.1 425.1L42.3 425.5M35.8 425.3L34.8 425.2L34.4 425.0L34.2 424.5L34.8 424.0L35.6 424.2L36.1 424.7L35.8 425.3" stroke="#303030" stroke-width="0.46" fill="none" stroke-linejoin="round"/>
<path d="M49.6 407.8L49.1 407.9L48.7 407.5L48.6 405.7L48.9 404.2L49.6 402.7L49.5 401.0L50.6 399.2L50.8 396.7L51.5 395.5L52.1 393.7L52.3 392.0L53.0 391.0L52.8 388.2L54.2 385.7L54.6 385.3L55.1 385.3L55.5 385.7L55.6 388.7L54.7 392.2L54.2 395.2L53.4 397.5L53.1 400.7L52.2 403.0L51.9 405.0L51.4 406.7L50.8 407.4L49.6 407.8M48.1 419.9L47.3 419.7L46.9 418.7L47.5 417.5L47.7 416.2L47.4 414.5L47.6 412.0L48.0 410.7L49.3 408.5L49.6 408.5L50.1 409.0L50.3 409.5L50.2 411.5L48.9 415.7L49.2 416.7L49.1 417.5L48.5 419.5L48.1 419.9M42.1 419.2L41.6 419.4L41.3 419.0L41.6 417.7L41.3 416.7L41.6 416.5L42.1 418.5L42.1 419.2M48.3 424.8L47.8 425.0L47.1 424.8L46.6 424.5L46.5 424.0L46.7 422.2L48.1 421.1L48.3 421.1L48.6 421.5L48.9 423.5L48.8 424.2L48.3 424.8M41.8 425.3L40.8 425.3L39.8 425.1L39.3 424.7L39.2 424.2L39.8 423.6L40.6 423.4L42.3 423.8L43.8 423.3L44.5 424.0L44.5 424.5L44.1 424.8L41.8 425.3M35.3 424.9L34.8 424.8L34.8 424.5L35.3 424.5L35.5 424.7L35.3 424.9" stroke="#303030" stroke-width="0.46" fill="none" stroke-linejoin="round"/>
<path d="M50.6 407.3L49.3 407.1L49.0 406.0L49.3 404.2L49.8 403.0L49.9 401.0L50.8 399.3L51.3 397.0L51.8 396.0L52.5 393.7L52.6 392.2L53.2 391.0L53.1 388.7L53.2 388.0L54.3 385.9L54.6 385.7L55.1 385.6L55.3 386.0L55.4 389.0L54.4 392.2L54.0 395.5L53.2 397.5L53.1 400.2L51.9 403.2L51.8 404.7L51.4 406.5L51.1 407.0L50.6 407.3M48.3 415.6L48.1 415.6L47.7 414.7L47.9 412.2L48.9 409.7L49.6 409.0L49.9 409.2L50.1 409.7L50.0 411.7L49.1 414.7L48.3 415.6M48.1 419.6L47.4 419.5L47.2 418.7L48.1 416.3L48.3 416.1L48.8 416.7L48.9 417.2L48.3 419.2L48.1 419.6M48.1 424.7L47.1 424.6L46.7 423.7L47.0 422.2L48.1 421.6L48.3 421.7L48.6 422.4L48.8 423.7L48.6 424.3L48.1 424.7M43.8 424.5L43.2 424.5L43.1 424.2L43.3 424.0L43.8 423.9L44.1 424.2L43.8 424.5M41.1 424.7L40.3 424.7L40.0 424.5L40.1 424.2L40.9 424.2L41.3 424.5L41.1 424.7" stroke="#303030" stroke-width="0.46" fill="none" stroke-linejoin="round"/>
<path d="M50.6 407.0L49.8 406.9L49.4 406.0L49.7 404.2L50.1 403.0L50.2 401.2L51.0 399.5L51.4 397.7L52.0 396.7L52.3 395.0L52.9 393.7L52.9 392.5L53.4 391.2L53.6 388.0L54.3 386.5L54.8 386.2L55.2 388.7L54.6 391.0L54.1 392.2L53.7 395.7L52.8 397.2L53.1 399.0L52.9 400.2L52.6 401.3L51.4 403.2L51.6 404.5L51.4 406.0L51.1 406.7L50.6 407.0M48.3 415.0L48.1 414.9L47.9 414.5L48.2 412.5L49.1 410.0L49.6 409.4L49.8 409.7L49.9 410.2L49.6 412.2L48.9 414.5L48.3 415.0M48.1 417.8L48.3 416.9L48.4 417.5L48.1 417.8M47.8 419.3L47.6 419.1L47.5 418.7L48.1 418.1L48.1 419.0L47.8 419.3M48.1 424.5L47.3 424.5L46.9 423.7L47.2 422.5L47.8 422.1L48.3 422.4L48.6 423.5L48.6 424.0L48.1 424.5" stroke="#303030" stroke-width="0.46" fill="none" stroke-linejoin="round"/>
<path d="M55.0 386.0L53.8 392.0L52.2 399.0L50.4 406.0L49.0 413.0L48.1 419.0L47.9 423.5" stroke="#111" stroke-width="1.3" fill="none" stroke-linecap="round" stroke-linejoin="round" opacity="0.85"/>
<path d="M30.0 424.4L47.9 424.4" stroke="#222" stroke-width="0.9" fill="none" stroke-linecap="round" opacity="0.7"/>
<path d="M18.5 366.0 L19.6 368.0 L20.7 378.0 L21.3 396.0 L21.5 425.2 L20.9 432.4 L18.5 432.4 Z" fill="#0a0a0a"/>
</g>
<ellipse cx="71.1" cy="377.1" rx="10.4" ry="16.5" transform="rotate(28 71.1 377.1)" fill="none" stroke="#444" stroke-width="0.75"/>
<text x="65.90" y="362.60" font-size="7.6" fill="#222" text-anchor="start" stroke="#fff" stroke-width="1.2" paint-order="stroke">7.3</text>
</g>
<g>
<rect x="99.60" y="354.60" width="80.30" height="78.60" fill="#fff" stroke="#8a8a8a" stroke-width="1"/>
<clipPath id="cp4"><rect x="100.1" y="355.1" width="79.3" height="77.6"/></clipPath>
<g clip-path="url(#cp4)" filter="url(#soft)">
<path d="M147.9 355.3h.5M147.8 355.8h.5M131.5 356.0h.5M143.3 356.6h.5M137.8 356.8h.5M158.4 357.2h.5M126.1 357.5h.5M133.7 357.7h.5M144.7 357.8h.5M148.3 357.7h.5M142.6 358.0h.5M155.5 358.0h.5M135.1 358.3h.5M146.0 358.2h.5M144.9 358.7h.5M151.3 358.7h.5M119.9 359.0h.5M125.5 358.9h.5M143.3 359.0h.5M143.7 358.9h.5M149.3 359.0h.5M150.8 358.9h.5M150.1 359.3h.5M154.2 359.1h.5M154.9 359.2h.5M145.9 359.6h.5M150.3 359.8h.5M146.4 360.0h.5M103.7 360.2h.5M142.8 360.2h.5M143.4 360.2h.5M154.5 360.2h.5M158.8 360.1h.5M160.5 360.3h.5M163.6 360.1h.5M141.3 360.5h.5M145.9 360.5h.5M148.9 360.5h.5M134.2 360.7h.5M148.0 360.7h.5M157.2 360.7h.5M159.4 360.7h.5M137.9 361.0h.5M143.5 361.0h.5M167.4 361.1h.5M131.1 361.2h.5M134.9 361.2h.5M141.0 361.3h.5M146.5 361.2h.5M154.1 361.3h.5M156.1 361.1h.5M137.5 361.6h.5M142.2 361.5h.5M148.6 361.5h.5M161.2 361.5h.5M124.5 361.8h.5M138.5 361.6h.5M151.4 361.6h.5M161.7 361.6h.5M165.2 361.8h.5M129.8 362.0h.5M132.7 361.9h.5M133.1 362.0h.5M155.4 361.9h.5M162.1 362.0h.5M116.2 362.3h.5M132.2 362.3h.5M136.7 362.1h.5M139.5 362.3h.5M146.6 362.2h.5M148.4 362.3h.5M150.0 362.3h.5M100.8 362.5h.5M121.8 362.4h.5M126.7 362.4h.5M128.0 362.6h.5M129.8 362.4h.5M140.2 362.5h.5M159.5 362.4h.5M123.0 362.7h.5M124.4 362.7h.5M131.6 362.7h.5M143.2 362.7h.5M144.9 362.7h.5M157.0 362.6h.5M158.2 362.7h.5M145.3 362.9h.5M146.7 363.0h.5M155.1 362.9h.5M159.6 363.0h.5M132.3 363.3h.5M142.2 363.3h.5M146.7 363.1h.5M148.4 363.3h.5M148.9 363.3h.5M107.8 363.5h.5M110.6 363.6h.5M111.2 363.5h.5M117.9 363.6h.5M116.0 363.7h.5M117.8 363.7h.5M137.1 363.8h.5M141.8 363.7h.5M155.4 363.7h.5M107.0 364.0h.5M125.9 363.9h.5M135.7 364.0h.5M149.5 363.9h.5M162.7 364.0h.5M110.7 364.2h.5M124.9 364.2h.5M126.4 364.3h.5M118.8 364.4h.5M133.1 364.4h.5M138.0 364.4h.5M142.4 364.5h.5M163.2 364.5h.5M140.3 364.8h.5M132.3 364.9h.5M134.4 365.1h.5M139.7 365.0h.5M110.7 365.1h.5M136.9 365.1h.5M168.0 365.2h.5M109.0 365.4h.5M123.5 365.6h.5M126.0 365.4h.5M129.2 365.4h.5M136.1 365.5h.5M118.9 365.8h.5M128.9 365.6h.5M132.8 365.7h.5M162.6 365.8h.5M119.7 366.0h.5M125.3 365.9h.5M128.9 365.9h.5M133.4 366.1h.5M111.8 366.3h.5M119.4 366.5h.5M120.5 366.4h.5M121.2 366.6h.5M121.8 366.4h.5M122.7 366.5h.5M123.5 366.6h.5M134.1 366.5h.5M112.5 366.8h.5M115.7 366.7h.5M121.2 366.8h.5M127.3 366.7h.5M112.2 366.9h.5M114.3 367.0h.5M129.6 366.9h.5M130.2 367.0h.5M131.5 366.9h.5M116.0 367.3h.5M128.1 367.2h.5M128.7 367.2h.5M131.1 367.3h.5M130.6 367.5h.5M163.7 367.5h.5M102.3 367.8h.5M125.6 367.7h.5M127.4 367.7h.5M131.1 367.8h.5M119.4 368.1h.5M126.5 368.0h.5M109.5 368.2h.5M120.9 368.3h.5M127.9 368.3h.5M101.9 368.4h.5M128.0 368.4h.5M111.3 368.7h.5M163.5 368.6h.5M105.7 369.0h.5M112.4 369.0h.5M119.3 368.9h.5M127.5 369.0h.5M120.2 369.2h.5M121.7 369.1h.5M125.8 369.2h.5M116.9 369.5h.5M119.6 369.5h.5M117.0 369.7h.5M101.0 370.1h.5M104.4 370.0h.5M116.3 370.0h.5M116.8 370.1h.5M108.9 370.2h.5M117.6 370.3h.5M108.9 370.5h.5M110.1 370.4h.5M116.5 370.5h.5M119.9 370.5h.5M168.7 370.5h.5M103.5 370.8h.5M103.6 370.7h.5M108.0 370.7h.5M116.7 370.6h.5M119.1 370.7h.5M123.7 370.6h.5M169.1 370.8h.5M101.2 370.9h.5M118.9 371.0h.5M163.1 370.9h.5M101.0 371.2h.5M107.2 371.3h.5M109.4 371.3h.5M110.5 371.3h.5M116.4 371.4h.5M116.8 371.4h.5M120.8 371.4h.5M110.6 371.7h.5M112.2 371.6h.5M115.8 371.6h.5M118.0 371.8h.5M100.1 372.0h.5M106.5 372.1h.5M109.7 372.2h.5M113.9 372.1h.5M120.6 372.3h.5M108.5 372.5h.5M112.3 372.5h.5M117.6 372.7h.5M119.9 373.0h.5M163.1 373.0h.5M165.8 373.1h.5M108.3 373.3h.5M117.5 373.3h.5M118.8 373.2h.5M114.4 373.4h.5M162.7 373.4h.5M163.3 373.4h.5M102.5 373.8h.5M102.8 373.6h.5M104.9 373.7h.5M110.4 373.8h.5M115.5 373.6h.5M105.6 374.0h.5M116.1 374.0h.5M111.6 374.2h.5M107.4 374.5h.5M110.7 374.5h.5M112.2 374.5h.5M113.2 374.4h.5M114.1 374.5h.5M164.5 374.6h.5M111.9 375.0h.5M111.0 375.1h.5M101.0 375.5h.5M106.9 375.5h.5M167.6 375.4h.5M102.0 376.3h.5M104.2 376.3h.5M102.4 376.5h.5M99.6 377.1h.5M102.2 376.9h.5M100.0 377.7h.5M143.2 379.0h.5M142.2 379.3h.5M142.8 379.2h.5M163.5 379.1h.5M143.5 379.8h.5M161.9 379.9h.5M144.2 380.3h.5M160.9 380.2h.5M142.2 380.4h.5M143.5 380.4h.5M162.3 381.3h.5M159.8 381.5h.5M159.8 381.8h.5M162.1 381.7h.5M144.5 382.1h.5M159.8 382.1h.5M160.7 381.9h.5M142.1 382.2h.5M144.8 382.4h.5M159.4 382.7h.5M142.4 383.5h.5M144.2 383.4h.5M158.5 383.6h.5M158.5 383.6h.5M161.3 384.3h.5M143.7 384.8h.5M157.8 384.7h.5M164.7 384.9h.5M159.6 385.9h.5M158.2 386.2h.5M155.6 387.8h.5M154.3 388.1h.5M155.2 388.5h.5M155.2 389.1h.5M173.9 389.1h.5M164.1 389.4h.5M104.0 389.7h.5M153.2 389.8h.5M156.4 389.6h.5M160.2 389.7h.5M103.5 389.9h.5M104.4 390.1h.5M148.9 389.9h.5M105.5 390.2h.5M149.3 390.1h.5M158.0 390.3h.5M100.0 390.6h.5M108.1 390.4h.5M177.2 390.4h.5M100.5 390.7h.5M109.5 390.7h.5M145.7 390.8h.5M147.8 390.7h.5M101.2 390.9h.5M102.0 391.1h.5M143.1 391.1h.5M145.0 391.2h.5M99.6 391.4h.5M102.9 391.4h.5M104.6 391.4h.5M145.7 391.4h.5M161.8 391.8h.5M142.9 391.9h.5M163.3 392.0h.5M99.9 392.3h.5M141.9 392.2h.5M143.8 392.2h.5M102.6 392.4h.5M103.9 392.4h.5M142.1 392.4h.5M145.1 392.6h.5M102.2 392.6h.5M144.8 392.8h.5M149.6 392.8h.5M148.5 393.0h.5M146.0 393.2h.5M148.9 393.3h.5M144.6 393.7h.5M146.6 393.8h.5M140.8 393.9h.5M141.9 393.9h.5M143.9 393.9h.5M148.4 393.9h.5M144.4 394.4h.5M147.5 394.4h.5M165.2 394.5h.5M141.8 395.0h.5M143.3 395.0h.5M159.8 395.0h.5M164.6 395.0h.5M173.0 395.0h.5M140.3 395.1h.5M147.3 395.1h.5M141.2 395.4h.5M141.3 395.8h.5M144.9 395.7h.5M163.7 395.9h.5M140.9 396.3h.5M141.3 396.5h.5M149.6 396.6h.5M147.9 397.0h.5M149.7 397.1h.5M139.5 397.5h.5M140.3 397.6h.5M140.8 397.9h.5M142.1 397.9h.5M150.9 398.1h.5M151.5 397.9h.5M140.1 398.1h.5M144.7 398.2h.5M139.7 398.5h.5M141.8 398.6h.5M142.3 398.8h.5M161.1 398.7h.5M142.4 399.0h.5M145.9 399.1h.5M142.2 399.2h.5M142.1 399.4h.5M149.1 399.4h.5M139.6 399.7h.5M142.4 399.8h.5M144.2 399.8h.5M143.9 400.0h.5M144.1 399.9h.5M140.5 400.2h.5M145.3 400.3h.5M147.0 400.5h.5M148.1 400.5h.5M165.4 400.4h.5M138.9 400.8h.5M148.0 400.7h.5M154.1 400.8h.5M140.4 401.0h.5M161.0 401.0h.5M140.3 401.4h.5M163.5 401.6h.5M139.6 401.8h.5M141.3 401.8h.5M144.9 401.6h.5M139.5 401.9h.5M146.7 401.9h.5M148.1 402.1h.5M138.6 402.5h.5M155.7 402.5h.5M166.2 402.4h.5M148.6 403.2h.5M177.3 403.4h.5M138.8 404.0h.5M140.9 404.1h.5M141.3 404.2h.5M150.1 404.3h.5M139.2 404.4h.5M143.8 404.4h.5M139.3 404.6h.5M143.8 404.8h.5M139.8 405.8h.5M139.1 405.9h.5M142.8 405.9h.5M138.2 406.2h.5M141.7 406.3h.5M142.0 406.2h.5M145.8 406.3h.5M152.3 406.6h.5M158.8 406.6h.5M161.9 406.7h.5M165.9 406.6h.5M141.0 406.9h.5M138.7 407.1h.5M139.2 407.2h.5M137.8 407.4h.5M139.3 407.8h.5M137.8 407.9h.5M140.6 407.9h.5M150.7 407.9h.5M137.7 408.4h.5M141.7 408.5h.5M142.2 408.5h.5M166.1 408.5h.5M158.8 408.7h.5M143.5 409.2h.5M144.3 409.3h.5M154.4 409.2h.5M153.8 409.6h.5M137.9 409.9h.5M140.0 410.3h.5M137.1 410.5h.5M145.3 411.0h.5M148.8 411.2h.5M151.2 411.3h.5M152.4 411.3h.5M141.2 411.4h.5M173.1 411.9h.5M138.8 412.3h.5M142.6 412.1h.5M147.3 412.3h.5M167.2 412.9h.5M137.1 413.2h.5M144.6 413.6h.5M138.1 413.7h.5M146.4 413.6h.5M179.8 413.7h.5M139.3 414.0h.5M139.5 414.0h.5M152.8 414.1h.5M138.6 414.6h.5M142.2 414.5h.5M156.8 414.6h.5M135.6 414.8h.5M162.2 414.6h.5M166.7 414.9h.5M135.8 415.1h.5M144.2 415.3h.5M142.4 415.7h.5M136.1 416.0h.5M137.4 416.0h.5M142.4 416.0h.5M137.8 416.2h.5M142.0 416.2h.5M135.9 416.7h.5M136.8 416.6h.5M162.8 416.8h.5M138.5 416.9h.5M137.4 417.5h.5M139.6 417.6h.5M140.5 417.5h.5M136.0 417.8h.5M137.2 417.9h.5M142.8 418.2h.5M136.2 419.7h.5M136.1 419.9h.5M139.1 419.9h.5M142.3 420.6h.5M140.9 421.5h.5M137.1 421.9h.5M136.0 422.3h.5M137.4 422.2h.5M135.4 422.7h.5M135.8 423.3h.5M159.5 423.3h.5M141.8 423.4h.5M145.9 423.4h.5M135.7 423.8h.5M137.8 423.7h.5M136.3 424.0h.5M138.1 424.0h.5M141.7 424.1h.5M146.2 423.9h.5M147.9 423.9h.5M137.7 424.1h.5M145.6 424.3h.5M151.9 424.2h.5M137.6 424.5h.5M161.3 424.8h.5M177.0 424.7h.5M138.4 425.3h.5M146.9 425.2h.5M138.8 425.6h.5M140.7 425.4h.5M160.8 425.4h.5M141.7 425.7h.5M135.3 426.0h.5M157.9 426.2h.5M137.5 426.4h.5M138.5 426.5h.5M136.8 426.9h.5M137.7 427.0h.5M162.8 427.2h.5M136.4 427.6h.5M138.2 427.5h.5M138.6 427.4h.5M138.0 427.8h.5M139.7 427.8h.5M141.6 427.7h.5M143.6 427.8h.5M138.0 427.9h.5M141.0 427.9h.5M151.9 429.3h.5M139.9 429.8h.5M142.1 429.7h.5M139.6 430.3h.5M140.7 430.3h.5M118.4 430.9h.5M120.0 431.1h.5M122.2 431.3h.5M125.0 431.3h.5M125.2 431.2h.5M142.2 431.3h.5M103.8 431.6h.5M107.3 431.4h.5M112.5 431.6h.5M113.6 431.5h.5M114.4 431.6h.5M117.0 431.5h.5M127.4 431.4h.5M135.5 431.4h.5M107.0 431.7h.5M111.0 431.8h.5M111.4 431.6h.5M112.8 431.8h.5M114.6 431.8h.5M119.6 431.6h.5M128.4 431.7h.5M139.2 431.7h.5M111.3 431.9h.5M112.5 431.9h.5M120.3 432.0h.5M125.0 431.9h.5M128.6 431.9h.5M130.5 431.9h.5M106.5 432.3h.5M111.4 432.2h.5M113.6 432.2h.5M115.8 432.3h.5M130.6 432.3h.5M136.6 432.1h.5M137.9 432.2h.5M140.0 432.2h.5M115.7 432.4h.5M129.5 432.5h.5M136.9 432.5h.5M99.8 432.8h.5M107.2 432.8h.5M110.4 432.7h.5M113.0 432.8h.5M104.2 432.9h.5M115.2 433.0h.5M117.3 432.9h.5M128.4 432.9h.5M129.6 433.0h.5M133.2 433.1h.5M138.1 433.0h.5" stroke="#333" stroke-width="0.55" fill="none" opacity="0.7"/>
<path d="M99.7 377.9L103.8 377.0L107.5 375.3L112.0 375.2L119.7 373.1L122.5 371.9L127.2 369.3L132.9 367.5L136.7 365.4L141.5 364.8L145.7 363.5L148.0 363.6L151.2 365.0L152.2 365.1L153.2 364.9L157.2 363.3L160.5 363.3L161.2 363.7L161.6 364.2L162.4 367.0L162.9 371.7L162.3 374.7L159.9 380.2L156.6 385.2L155.2 386.6L153.7 387.7L150.0 389.6L147.0 390.3L142.7 390.3L142.0 390.5L141.2 391.2L140.5 392.7L138.9 399.2L138.4 405.0L136.2 412.1L135.2 416.5L135.0 419.0L135.4 423.0L134.7 427.0L135.0 427.4L135.5 427.7L137.5 427.9L138.5 428.5L139.0 429.2L139.1 430.0L138.9 430.7L138.6 431.2L138.0 431.6L137.2 431.7L134.7 431.4L129.2 431.5L124.5 431.0L121.0 431.1L118.0 430.9L113.5 431.4L108.0 431.2L102.0 431.5L101.0 431.3L99.7 430.8M143.1 385.5L143.8 385.0L144.4 384.2L144.7 383.5L144.8 382.5L144.5 380.7L144.1 379.7L143.5 379.0L142.7 378.8L142.2 378.9L142.1 379.5L142.2 384.7L142.5 385.5L143.1 385.5M99.7 394.1L101.0 394.1L102.7 392.9L104.2 392.7L104.7 392.0L105.3 390.5L106.0 389.7L103.2 389.6L99.7 390.2M110.1 391.0L110.2 390.7L110.2 390.2L109.5 389.6L108.7 389.7L107.9 390.2L108.1 390.7L108.6 391.0L109.5 391.1L110.1 391.0" stroke="#303030" stroke-width="0.46" fill="none" stroke-linejoin="round"/>
<path d="M99.7 379.8L104.3 379.0L108.2 377.7L111.7 377.3L120.5 375.0L127.5 371.4L132.8 369.5L136.5 367.6L137.5 367.3L141.5 366.7L147.0 365.4L148.2 365.6L151.0 366.9L152.0 367.0L153.0 366.7L156.5 364.9L159.7 364.5L160.7 364.7L161.1 365.7L161.9 372.0L161.6 374.0L160.6 376.5L158.7 380.5L156.3 384.0L154.5 385.7L151.7 387.6L149.0 388.8L147.2 389.2L145.2 389.3L143.8 388.7L143.4 388.0L143.6 387.2L145.8 384.7L146.4 383.5L146.4 381.7L145.8 378.5L145.2 377.5L144.0 376.8L141.2 376.6L140.0 377.0L140.1 377.5L141.2 379.0L141.5 381.0L141.4 383.7L140.8 388.2L139.6 391.7L138.8 396.2L138.0 398.7L137.4 405.0L136.2 409.0L135.4 413.7L134.6 416.5L134.5 419.0L134.8 421.2L134.6 424.5L134.2 425.5L132.5 427.9L131.5 428.6L128.7 429.1L126.0 429.0L121.2 429.5L116.7 429.1L112.5 430.0L106.0 430.0L102.0 430.4L99.7 429.8M99.7 397.6L100.4 397.2L101.2 396.2L103.0 395.0L104.0 394.7L106.0 392.3L108.5 391.7L110.2 391.7L111.0 391.0L111.3 390.2L110.8 389.2L110.9 388.0L110.5 387.5L109.2 387.7L108.0 387.4L106.2 387.5L104.7 387.8L103.2 388.3L99.7 388.8" stroke="#303030" stroke-width="0.46" fill="none" stroke-linejoin="round"/>
<path d="M99.7 381.7L101.5 381.4L103.7 381.6L104.7 381.4L108.7 380.1L112.0 379.6L115.2 378.1L119.0 377.6L121.2 377.1L124.5 375.7L128.6 373.5L133.7 371.8L137.5 369.7L141.7 368.9L147.0 367.6L148.2 367.7L150.5 368.8L151.5 368.9L152.5 368.6L155.0 366.9L156.5 366.2L159.7 365.6L160.2 365.9L160.5 366.5L160.9 371.2L160.8 373.0L160.0 375.5L158.1 379.5L156.0 382.7L154.2 384.6L152.5 385.9L148.7 387.6L146.7 388.0L146.0 387.8L145.7 387.5L145.9 386.7L147.6 384.7L148.1 383.5L147.2 377.0L146.8 376.0L146.2 375.3L145.5 374.9L144.5 374.7L138.7 374.7L136.7 375.5L135.0 377.0L135.0 377.3L135.5 377.4L137.5 377.0L138.0 377.0L140.0 378.1L140.9 379.2L141.1 380.2L141.2 381.7L140.1 388.5L139.0 391.2L138.6 395.2L137.4 398.7L137.4 400.2L136.8 405.2L136.2 406.7L135.1 413.5L134.2 416.5L134.3 424.5L133.8 425.5L132.2 427.2L131.2 427.7L129.7 427.2L128.2 427.8L126.2 427.6L124.5 428.1L121.0 428.3L117.2 427.8L114.0 427.8L111.2 428.5L108.2 428.6L105.5 428.3L102.0 429.2L99.7 428.9M129.2 380.0L130.5 379.7L131.9 378.7L132.2 378.2L131.7 378.1L131.0 378.3L127.9 380.0L128.2 380.2L129.2 380.0M124.8 382.5L126.7 381.8L127.1 381.0L127.0 380.5L125.5 380.3L124.0 381.1L123.6 381.7L123.7 382.2L124.2 382.5L124.8 382.5M118.9 385.7L119.7 385.0L120.2 384.2L120.0 383.4L119.5 383.0L118.2 383.1L116.7 383.9L115.5 384.1L114.8 384.5L114.8 384.7L116.5 385.5L118.2 385.8L118.9 385.7M99.7 398.7L100.7 399.2L102.2 398.6L102.8 397.2L104.3 395.7L105.8 394.7L106.5 393.8L107.7 393.6L108.7 392.5L110.2 392.5L111.2 392.0L112.2 391.7L112.6 390.0L113.7 388.7L113.9 388.2L113.8 387.7L112.7 385.9L112.2 385.5L111.5 385.4L109.2 385.6L104.5 385.5L101.2 386.9L99.7 387.3M112.3 393.7L112.5 393.2L112.5 392.3L112.2 392.4L112.1 393.0L112.1 393.5L112.3 393.7" stroke="#303030" stroke-width="0.46" fill="none" stroke-linejoin="round"/>
<path d="M152.7 384.5L151.9 384.5L150.7 383.7L150.0 382.9L149.3 381.7L148.8 379.5L148.6 374.7L148.2 373.7L147.4 372.2L147.4 371.5L148.0 370.9L150.2 371.0L151.5 370.7L152.7 370.0L155.7 367.9L159.0 366.7L159.5 366.7L160.0 367.5L160.1 369.7L159.9 372.7L159.4 374.7L157.9 378.0L155.9 381.5L154.2 383.5L152.7 384.5M99.7 401.1L101.2 400.8L102.7 400.1L103.4 398.0L104.9 396.2L105.5 395.9L107.0 395.5L108.5 394.5L109.2 393.6L109.7 393.6L110.6 394.0L111.7 396.0L112.2 397.6L113.0 397.4L114.0 396.8L115.6 395.2L115.7 394.5L116.3 393.7L116.3 393.2L116.0 392.6L115.5 392.5L114.8 393.0L114.5 394.2L114.0 394.3L113.5 394.0L113.3 393.5L113.8 391.7L113.6 390.5L115.0 388.6L116.0 387.5L116.8 387.0L117.7 386.6L119.0 386.4L122.0 384.3L123.5 383.9L125.7 382.8L127.0 382.5L128.7 381.3L130.5 380.8L133.0 379.3L137.2 377.7L138.0 377.6L138.7 377.8L140.0 378.5L140.6 379.2L140.9 380.5L140.8 382.5L140.2 385.0L139.7 388.7L138.6 391.5L138.3 395.0L137.1 398.7L137.1 400.2L136.4 405.2L135.8 406.5L134.8 413.5L133.9 416.5L134.0 420.5L133.8 421.7L134.1 424.0L133.7 425.2L132.0 426.9L131.2 427.1L130.0 426.7L127.2 427.1L125.7 427.0L124.2 427.5L123.0 427.0L122.0 427.5L120.7 427.7L116.0 426.9L113.5 427.0L111.7 427.4L110.0 426.9L108.2 426.9L107.7 427.1L106.2 426.9L102.0 428.3L99.7 428.3" stroke="#303030" stroke-width="0.46" fill="none" stroke-linejoin="round"/>
<path d="M153.5 383.2L153.0 383.4L152.5 383.2L150.7 381.4L150.1 380.2L149.8 379.0L149.8 377.7L150.5 374.2L151.6 372.5L155.0 369.7L158.5 367.7L159.2 367.6L159.6 368.5L159.7 370.2L159.4 372.5L158.9 374.2L157.6 377.2L155.8 380.5L154.6 382.2L153.5 383.2M99.7 402.3L101.0 402.5L102.0 403.0L103.0 402.4L103.5 401.9L103.8 401.0L103.7 399.2L104.0 398.4L105.4 397.5L106.0 396.7L107.2 396.5L108.5 396.8L109.7 397.6L110.9 398.0L111.0 398.2L110.4 399.5L110.4 400.2L109.8 401.7L110.0 403.0L110.6 404.0L110.7 404.7L111.5 405.1L112.7 405.0L114.5 404.6L115.7 404.0L117.2 402.7L117.7 401.5L117.1 399.7L115.9 399.0L115.7 398.5L116.1 397.7L117.0 397.2L117.4 396.2L117.4 396.0L116.2 395.0L116.6 393.7L116.5 393.0L116.2 392.3L115.6 391.5L115.8 390.5L115.8 389.2L117.0 387.5L117.7 387.0L119.7 386.7L120.7 387.0L121.3 385.7L122.2 384.8L123.5 384.6L125.5 383.3L127.2 382.8L129.0 381.8L130.5 381.7L132.0 380.3L137.0 378.1L137.7 377.9L138.7 378.1L140.3 379.2L140.7 380.5L140.6 382.5L139.9 385.0L139.4 388.7L138.4 391.5L138.1 395.0L136.9 398.7L136.9 400.2L136.3 402.7L136.2 405.0L135.4 406.5L135.5 407.7L134.6 413.2L133.7 416.5L133.6 418.2L133.7 420.0L133.5 421.5L133.9 424.0L133.5 425.1L132.2 426.3L131.5 426.7L130.2 426.2L129.2 426.5L128.2 426.5L127.2 426.7L125.7 426.5L124.2 427.0L123.0 426.4L121.7 427.1L120.5 427.3L118.7 426.7L115.7 426.3L111.5 426.9L110.8 426.5L109.8 425.2L107.5 424.4L107.0 424.6L105.0 426.2L102.5 427.4L101.5 427.7L99.7 427.8M125.3 406.0L125.6 405.2L125.2 405.0L125.2 406.1L125.3 406.0" stroke="#303030" stroke-width="0.46" fill="none" stroke-linejoin="round"/>
<path d="M153.7 382.4L153.2 382.5L152.8 382.2L151.0 379.2L150.9 377.2L151.4 375.0L152.1 373.7L153.2 372.4L158.0 368.6L158.5 368.3L159.0 368.4L159.3 369.2L159.3 370.7L158.4 374.5L157.3 377.0L155.9 379.7L154.7 381.4L153.7 382.4M99.7 403.1L101.0 403.3L102.2 404.2L103.5 403.2L104.5 402.0L105.4 401.2L105.5 400.7L105.3 399.7L105.5 399.2L107.0 399.2L108.0 397.9L108.5 397.9L108.9 398.2L109.1 398.7L109.0 399.5L108.5 399.8L107.4 399.7L106.9 400.5L106.9 401.2L107.1 401.7L108.2 402.5L108.5 403.0L108.3 404.0L107.7 405.1L106.7 405.9L106.1 406.7L105.5 407.0L104.5 406.9L103.6 406.5L102.2 405.1L101.7 405.4L101.1 406.2L101.4 407.2L101.0 408.5L101.7 409.7L101.6 411.0L102.0 411.1L103.2 410.8L104.2 411.0L106.2 410.7L106.9 411.2L107.2 412.2L107.5 412.3L107.8 412.0L107.8 411.5L106.9 410.0L107.2 409.7L107.7 409.6L108.7 409.9L109.2 409.8L109.6 409.2L110.0 407.7L110.5 407.2L113.0 406.2L114.2 406.4L114.7 406.4L116.5 404.7L119.0 403.9L119.7 404.1L120.5 405.2L121.2 405.2L121.7 404.5L121.8 402.2L123.7 401.6L124.2 400.7L124.2 400.2L123.7 399.8L121.5 399.0L121.0 399.2L120.5 400.5L119.2 400.6L118.7 400.3L116.9 398.5L117.0 398.0L118.0 396.7L118.1 395.2L118.0 394.9L117.2 395.0L116.9 394.7L116.6 391.5L116.8 391.0L117.7 390.2L117.5 389.8L116.7 389.7L116.5 389.5L116.5 389.0L117.0 388.0L117.6 387.5L118.5 387.2L119.7 387.1L120.7 387.5L121.0 387.5L121.9 385.7L122.4 385.2L123.5 385.0L125.5 383.6L127.2 383.2L128.7 382.3L129.5 382.2L130.9 382.5L131.3 381.2L131.7 380.8L137.2 378.2L138.0 378.1L138.7 378.3L139.7 378.9L140.3 379.5L140.6 380.5L140.5 382.2L139.7 385.0L139.2 388.7L138.2 391.4L137.9 395.0L136.7 398.7L136.7 400.5L136.1 402.5L136.0 404.7L135.8 405.5L135.2 406.2L135.3 407.7L134.4 413.2L133.5 416.7L133.3 421.5L133.7 424.0L133.6 424.7L133.2 425.2L132.2 426.0L131.5 426.3L130.2 425.9L129.2 426.3L128.2 426.2L127.0 426.4L125.7 426.3L124.5 426.6L123.0 426.1L121.5 426.8L120.5 426.9L118.7 426.4L115.7 426.0L111.7 426.5L111.0 426.0L110.2 424.5L107.5 422.6L107.0 421.7L107.1 420.7L107.0 420.4L106.2 420.3L103.5 421.7L102.2 421.0L99.7 421.1M127.8 385.2L128.1 385.0L128.0 384.7L127.6 385.0L127.8 385.2M130.0 392.7L130.1 392.5L130.0 392.0L129.5 391.7L129.2 391.9L129.0 392.2L129.1 392.7L129.5 393.0L130.0 392.7M134.1 393.0L134.3 392.5L134.2 391.9L133.5 391.9L132.9 392.2L132.9 392.5L133.1 392.7L134.1 393.0M127.0 393.2L127.0 392.3L126.7 392.2L126.3 392.5L126.2 392.7L126.5 393.2L127.0 393.2M127.1 397.7L127.1 397.0L126.0 396.2L125.6 396.2L125.5 396.7L125.7 397.5L126.5 397.9L127.1 397.7M131.3 401.5L131.7 401.2L132.0 400.5L131.9 399.7L131.5 399.2L130.8 400.5L130.9 401.2L131.3 401.5M127.1 407.0L127.5 406.7L127.6 406.2L126.7 404.3L125.7 404.3L124.8 404.7L124.6 405.7L125.2 406.9L126.0 407.2L127.1 407.0M119.7 410.7L120.5 410.1L121.5 408.5L121.5 408.2L121.2 408.0L120.8 408.5L120.0 408.9L119.5 409.5L119.2 410.7L119.7 410.7M124.6 409.0L124.9 408.7L124.9 408.5L124.0 408.5L123.2 409.0L124.6 409.0M115.7 421.5L117.7 420.4L119.0 420.3L119.4 420.0L119.7 416.1L121.0 416.1L121.7 415.8L122.1 415.2L122.0 414.7L121.2 414.6L119.5 415.6L118.0 415.0L117.1 417.0L117.7 418.0L117.8 418.5L117.5 419.2L117.0 419.5L116.4 419.5L116.0 419.0L116.0 417.2L115.2 416.8L114.4 417.0L114.2 418.2L114.8 419.7L114.8 421.2L115.2 421.6L115.7 421.5M115.3 422.7L115.0 422.5L114.2 422.7L115.0 422.9L115.3 422.7M99.7 423.6L102.5 423.7L103.9 425.5L103.5 426.0L102.2 426.8L99.7 427.4" stroke="#303030" stroke-width="0.46" fill="none" stroke-linejoin="round"/>
<path d="M154.0 381.6L153.5 381.7L153.1 381.5L152.0 378.5L151.9 377.2L152.3 375.5L153.2 373.8L155.2 372.0L157.2 369.7L158.0 369.1L158.7 368.9L159.1 369.7L159.1 371.0L158.2 374.5L155.9 379.2L154.7 380.9L154.0 381.6M99.7 413.6L101.1 412.2L102.2 411.9L103.7 412.0L105.5 411.5L106.0 411.7L106.5 413.0L107.0 413.3L110.2 412.6L110.6 412.0L110.0 410.5L110.4 409.5L110.5 408.2L110.7 407.7L112.7 407.0L114.0 407.2L114.7 407.1L115.5 406.7L116.5 405.3L117.7 405.0L119.0 404.4L119.3 404.5L119.6 405.0L119.2 406.5L120.1 407.0L120.2 407.5L120.0 408.0L118.7 409.7L118.2 410.0L117.7 410.1L117.6 408.7L117.2 407.9L116.5 407.3L116.1 407.7L116.2 409.9L116.5 410.2L117.4 410.5L117.3 411.5L117.7 412.0L118.5 412.2L119.2 412.0L120.2 411.1L121.5 409.6L123.0 409.6L125.5 409.0L125.5 408.2L125.2 407.8L122.7 408.2L121.1 406.7L121.0 406.2L121.9 405.5L122.1 405.0L122.2 402.7L122.5 402.4L124.0 401.9L124.5 400.8L124.5 400.2L124.0 399.6L122.0 398.6L120.8 398.7L120.0 399.7L119.7 399.8L119.0 399.6L117.9 398.5L117.8 398.0L118.3 397.2L118.4 396.0L118.8 394.5L118.5 394.1L117.5 394.0L117.2 393.5L116.9 391.7L118.1 390.2L118.0 389.7L117.0 389.1L117.1 388.5L117.5 387.9L118.0 387.6L119.7 387.4L120.6 388.0L120.7 389.2L121.2 389.4L121.8 389.0L121.9 388.7L121.4 387.7L122.0 386.0L122.7 385.5L123.7 385.3L125.5 383.9L126.2 383.6L127.2 383.6L128.7 382.7L130.2 383.0L131.2 382.8L131.5 382.5L131.5 381.5L131.9 381.0L137.5 378.3L138.5 378.4L140.0 379.3L140.4 380.2L140.4 382.2L139.5 384.9L139.1 388.5L138.2 391.2L137.8 394.7L136.6 398.5L136.6 400.2L135.9 402.5L135.9 404.7L135.0 406.2L135.2 407.5L135.0 408.7L134.3 413.2L133.2 417.5L133.1 421.2L133.6 424.0L133.2 425.0L131.7 426.1L130.2 425.7L129.2 426.1L127.0 426.2L125.7 426.1L124.5 426.3L123.0 425.9L120.7 426.7L120.0 426.6L118.7 426.1L117.5 426.1L115.7 425.7L112.2 426.2L111.5 426.1L111.0 425.5L110.7 424.0L111.0 423.3L111.5 422.7L113.7 423.7L115.5 423.5L116.7 422.0L117.7 421.2L119.2 420.6L119.7 420.2L120.0 416.9L120.2 416.6L122.0 416.1L122.5 415.2L122.3 414.5L122.0 414.2L120.2 414.4L119.2 413.7L118.0 413.9L117.1 414.5L116.9 415.0L117.0 415.7L116.7 416.2L116.1 416.2L115.5 415.3L114.0 416.0L112.1 417.5L111.9 418.0L112.0 418.5L114.0 420.0L114.0 420.7L113.2 421.2L112.2 421.5L111.5 421.4L109.7 421.9L109.0 421.9L108.5 421.5L108.2 420.2L107.8 419.7L106.0 419.1L105.2 419.4L104.0 420.5L102.5 420.4L99.7 420.7M135.5 384.5L135.4 384.0L135.2 383.7L134.9 383.7L134.7 384.0L134.9 384.5L135.2 384.6L135.5 384.5M125.5 388.5L126.5 388.3L126.9 387.0L128.2 385.5L129.1 384.7L129.2 384.4L127.2 384.2L127.0 384.7L126.7 386.7L126.2 387.1L124.7 387.3L124.5 387.8L124.5 388.5L125.5 388.5M132.4 395.0L132.7 394.7L132.8 393.5L133.2 393.2L134.2 393.2L134.5 392.9L134.6 392.2L134.6 392.0L134.2 391.7L133.0 391.5L132.8 391.2L132.7 390.2L132.2 389.7L131.7 389.9L131.6 390.5L131.9 391.0L132.7 391.5L132.2 392.5L131.0 393.5L130.6 394.2L130.7 394.5L131.7 394.9L132.4 395.0M129.9 393.2L130.4 392.7L130.4 392.2L130.0 391.6L129.5 391.4L128.8 392.0L128.7 392.7L129.2 393.4L129.9 393.2M127.4 393.5L127.4 392.5L127.2 391.7L127.0 391.6L126.0 392.2L125.8 392.7L126.7 393.7L127.2 393.7L127.4 393.5M127.4 398.2L127.6 397.2L127.4 396.7L125.7 395.7L125.1 396.0L125.0 396.5L125.5 397.7L126.5 398.2L127.4 398.2M128.7 399.2L129.0 399.0L129.0 398.7L128.5 398.6L127.8 398.7L128.1 399.2L128.7 399.2M131.3 403.0L131.4 402.0L132.2 400.5L132.0 399.2L131.7 398.7L131.5 398.7L131.0 399.2L130.5 400.5L130.8 402.0L130.8 402.7L131.0 403.1L131.3 403.0M125.7 407.5L127.5 407.0L127.9 406.5L127.3 404.7L127.7 403.5L127.1 402.7L126.9 402.0L126.5 401.8L126.1 402.2L126.5 403.2L126.3 403.7L124.5 404.4L124.1 405.0L124.2 406.2L125.2 407.6L125.7 407.5M107.0 404.6L106.5 404.7L105.2 404.3L104.2 404.2L103.9 404.0L105.0 402.7L106.0 402.4L107.2 402.8L107.7 403.2L107.6 404.0L107.0 404.6M99.7 403.9L100.5 404.1L100.8 404.7L100.5 405.4L99.7 405.8M130.5 417.0L130.7 416.0L130.5 414.7L130.2 414.3L130.0 414.3L129.8 414.7L129.8 416.5L130.2 417.1L130.5 417.0M110.5 417.0L110.5 416.5L110.2 416.4L110.1 417.0L110.2 417.1L110.5 417.0M99.7 424.6L100.7 425.3L102.0 425.0L102.2 425.5L101.9 426.0L99.7 427.0" stroke="#303030" stroke-width="0.46" fill="none" stroke-linejoin="round"/>
<path d="M154.0 381.0L153.4 380.7L153.2 379.5L153.2 377.0L153.5 375.5L156.9 370.5L157.7 369.7L158.5 369.5L158.8 370.0L158.8 371.2L157.9 374.7L155.7 379.0L154.7 380.5L154.0 381.0M121.5 426.3L120.2 426.4L118.7 425.8L117.2 425.8L115.7 425.5L112.0 426.0L111.5 425.7L111.1 424.7L111.1 424.0L111.7 423.5L113.5 424.5L115.7 423.8L116.7 422.8L117.7 422.3L118.5 421.5L119.9 420.7L120.1 420.2L120.0 418.2L120.2 417.2L120.7 416.9L122.0 416.7L122.8 415.5L122.5 414.0L122.2 413.7L120.8 413.7L120.5 413.5L120.3 412.2L120.5 411.5L121.7 410.1L124.7 409.5L125.9 409.7L125.9 408.2L126.1 407.7L127.6 407.2L128.2 406.7L127.5 404.7L128.1 403.5L127.1 401.7L126.7 401.5L126.2 401.5L125.6 402.0L125.6 402.5L125.8 403.2L125.6 403.5L123.2 404.3L122.7 404.1L122.5 403.5L122.6 403.0L124.3 402.2L124.8 400.7L124.8 400.2L124.2 399.4L122.2 398.3L121.0 398.2L119.7 398.6L119.6 398.5L118.7 396.2L119.2 394.2L118.7 393.6L117.5 393.2L117.3 392.5L117.4 391.5L118.4 390.2L118.3 389.7L117.5 389.0L117.4 388.5L118.2 387.8L119.7 387.7L120.3 388.2L120.1 389.2L120.2 389.6L120.7 389.9L121.2 389.8L122.4 389.0L121.8 387.7L122.0 386.5L122.7 385.8L123.5 385.8L123.9 386.2L124.2 386.7L124.0 388.5L124.2 388.9L124.5 389.1L126.0 388.7L126.7 388.9L127.0 389.1L127.2 390.0L127.0 390.5L126.4 391.5L125.2 392.5L125.2 392.7L126.7 394.0L127.7 394.1L127.9 393.7L127.7 391.2L127.8 390.7L128.2 390.4L129.2 390.4L129.5 389.7L129.3 389.2L129.0 389.0L127.5 388.8L127.1 388.5L127.1 387.5L128.1 386.0L128.7 385.3L129.7 384.7L129.9 384.5L129.9 383.7L131.6 383.0L131.8 382.5L131.7 381.7L132.0 381.2L133.2 380.8L134.2 380.0L137.2 378.5L137.7 378.4L138.5 378.5L139.5 379.1L140.1 379.7L140.3 380.5L140.3 382.0L139.3 384.7L138.9 388.5L138.0 391.5L137.6 395.0L137.0 396.5L136.5 398.5L136.4 400.5L135.8 402.2L135.7 404.7L134.8 406.2L135.0 407.5L134.9 409.0L134.1 413.5L133.5 415.5L133.0 418.2L133.0 421.0L133.4 423.7L133.4 424.5L133.0 425.0L131.7 425.9L130.2 425.5L129.2 425.9L127.0 426.0L125.7 425.9L124.5 426.0L123.0 425.7L121.5 426.3M129.2 383.7L128.2 383.8L128.0 383.5L128.5 383.1L129.0 383.1L129.5 383.5L129.2 383.7M135.7 384.7L135.7 384.0L135.5 383.5L134.7 383.5L134.5 384.0L134.7 384.6L135.2 385.0L135.7 384.7M125.7 386.7L125.1 386.5L124.5 385.7L124.4 385.2L125.0 384.5L125.7 384.1L126.2 384.1L126.5 384.5L126.4 386.0L126.2 386.5L125.7 386.7M132.8 396.0L133.5 395.7L133.5 394.0L134.5 393.2L134.8 392.2L134.5 391.6L133.3 391.0L132.7 389.5L132.2 389.3L131.5 389.7L131.3 390.2L131.4 391.0L132.0 391.7L131.8 392.2L131.5 392.4L131.0 392.4L130.0 391.2L129.5 390.9L129.2 391.0L128.3 392.2L128.5 393.5L128.1 394.2L128.5 394.8L129.2 395.2L131.0 395.2L132.8 396.0M129.1 399.5L129.6 399.0L129.5 398.0L128.1 398.0L127.8 396.5L126.7 396.1L126.0 395.5L125.5 395.4L123.7 396.0L122.9 396.7L123.0 397.0L124.5 396.8L125.4 398.0L127.0 398.7L128.0 399.6L128.5 399.7L129.1 399.5M131.2 403.5L131.6 403.0L131.7 402.0L132.3 400.5L132.1 398.5L131.7 398.0L131.2 398.1L130.9 398.5L130.3 400.5L130.5 403.1L130.7 403.5L131.2 403.5M130.7 405.2L130.7 404.7L130.5 404.5L130.2 404.6L130.0 405.2L130.2 405.4L130.7 405.2M118.5 408.8L118.2 408.7L118.1 408.2L118.2 407.7L118.5 407.6L119.0 408.0L118.8 408.5L118.5 408.8M113.2 415.5L112.5 415.4L111.8 414.2L110.9 413.5L111.6 412.0L111.4 411.0L111.7 409.5L111.5 408.5L111.7 408.2L112.2 408.0L112.5 408.2L112.7 408.9L113.0 409.0L114.5 408.4L115.0 408.5L115.2 408.8L115.5 409.7L115.3 410.7L115.0 411.2L114.1 411.5L114.1 411.7L114.5 412.3L115.0 412.5L116.2 412.3L117.5 413.0L117.5 413.2L117.2 413.5L115.7 413.9L114.0 415.2L113.2 415.5M99.7 415.6L101.0 415.5L101.3 415.0L101.4 413.5L101.7 413.1L102.2 412.9L103.3 413.5L103.7 414.6L104.7 414.9L106.0 415.8L106.5 415.7L106.7 415.5L107.3 414.5L107.7 414.3L108.2 414.5L108.7 415.0L108.9 416.0L108.7 416.7L107.2 417.3L103.2 419.8L101.5 420.0L100.5 419.7L99.7 419.2M130.5 417.5L130.7 417.2L130.9 416.2L130.8 414.7L130.5 413.9L130.2 413.7L129.7 413.7L129.2 414.2L129.6 416.5L130.0 417.4L130.5 417.5M121.9 422.7L122.3 422.0L122.2 421.7L121.7 421.5L121.4 421.7L121.3 422.2L121.6 422.7L121.9 422.7" stroke="#303030" stroke-width="0.46" fill="none" stroke-linejoin="round"/>
<path d="M154.2 380.3L154.0 380.3L153.7 380.0L153.6 379.0L153.8 377.2L154.3 375.5L156.7 371.2L157.5 370.3L158.2 370.0L158.6 370.5L158.6 371.5L157.6 375.0L155.7 378.6L155.0 379.7L154.2 380.3M121.7 426.0L120.2 426.2L118.5 425.6L117.2 425.6L115.7 425.2L114.5 425.4L114.0 425.2L114.3 424.7L115.7 424.2L117.0 423.1L118.2 422.9L119.0 421.9L119.5 421.6L120.2 421.6L121.0 423.0L121.4 423.2L122.0 423.2L122.3 423.0L122.9 422.0L122.9 421.2L122.5 420.8L120.7 420.7L120.2 419.5L120.3 418.0L120.5 417.5L121.0 417.3L123.2 417.8L123.6 417.7L123.7 417.5L123.0 416.5L123.2 415.5L122.9 414.5L122.9 413.5L121.3 412.7L121.0 412.2L121.1 411.5L122.0 410.5L124.2 409.8L125.0 409.8L125.7 410.4L126.2 410.5L126.5 410.0L126.2 408.7L126.3 408.0L128.0 407.3L128.7 406.7L128.8 406.5L128.0 405.6L127.7 405.0L128.5 403.2L127.7 402.5L127.4 401.7L127.0 401.2L126.2 401.1L125.4 401.2L125.2 400.2L124.7 399.5L124.2 398.9L123.3 398.5L123.0 398.0L123.7 397.5L124.2 397.4L125.0 398.1L126.5 398.7L128.0 400.1L128.5 400.2L129.7 399.8L130.0 399.9L130.2 401.7L130.1 403.0L130.2 403.7L129.7 405.2L130.0 405.7L130.7 405.7L131.0 405.2L131.0 404.2L131.7 403.1L132.4 401.0L132.4 398.7L132.6 397.2L133.8 395.7L134.1 394.2L135.0 392.7L135.0 392.2L134.7 391.7L133.5 390.3L132.9 389.2L132.5 389.0L131.8 389.2L131.2 389.7L131.0 390.5L131.0 391.3L130.7 391.3L130.0 390.6L129.9 389.5L129.6 389.0L129.0 388.6L127.7 388.4L127.4 388.0L127.5 387.5L128.6 385.7L130.2 384.7L130.6 384.0L131.7 383.3L132.1 382.7L132.0 381.7L132.2 381.4L133.5 381.1L134.5 380.0L137.5 378.6L138.5 378.7L140.0 379.7L140.2 380.5L140.2 382.0L139.2 384.7L139.2 386.2L138.8 388.5L137.9 391.2L137.5 395.0L136.7 396.9L136.3 400.5L135.7 402.2L135.7 404.5L135.5 405.0L134.7 406.0L134.9 407.5L134.8 409.0L134.0 413.2L132.8 418.2L132.9 421.0L133.3 423.7L133.2 424.5L132.7 425.1L131.7 425.7L130.0 425.3L129.0 425.7L127.0 425.8L124.5 425.8L123.0 425.6L121.7 426.0M135.5 385.2L135.9 384.7L135.8 383.5L135.5 383.1L134.7 383.2L134.3 383.7L134.4 384.5L135.0 385.1L135.5 385.2M125.7 385.5L125.5 385.6L125.0 385.2L125.5 384.6L125.9 384.7L125.7 385.5M122.0 397.5L121.5 397.7L121.0 397.6L119.7 397.1L119.2 396.7L119.0 396.0L119.6 394.7L119.6 394.2L119.0 393.3L117.8 392.7L117.6 392.0L117.8 391.5L118.6 390.7L118.9 390.0L118.7 389.5L118.0 388.7L118.2 388.2L119.0 387.9L119.7 388.1L119.9 388.5L119.5 389.5L119.6 389.7L120.5 390.4L121.2 390.3L123.0 389.0L122.1 387.5L122.3 386.5L123.0 386.1L123.5 386.3L123.8 387.0L123.6 388.7L124.0 389.5L124.2 389.7L125.7 389.0L126.2 389.1L126.7 389.5L126.8 390.0L126.7 390.5L125.7 391.7L125.2 391.8L125.0 391.7L124.2 390.1L124.0 390.2L123.8 391.0L124.4 392.2L124.5 393.1L125.7 393.5L127.3 394.7L127.6 395.5L127.2 395.8L126.0 395.1L123.7 395.3L122.5 396.2L122.0 397.5M131.0 397.1L129.5 396.6L128.7 396.8L128.7 396.5L130.2 395.7L131.0 395.7L131.3 396.2L131.2 396.9L131.0 397.1M113.7 414.1L113.5 414.2L112.4 413.2L112.4 412.7L112.6 412.5L113.0 412.4L113.5 412.7L114.0 413.5L114.0 413.7L113.7 414.1M130.7 417.7L131.0 417.2L131.1 416.0L130.7 413.7L130.2 413.3L129.2 413.3L128.7 414.0L128.7 415.0L129.7 417.5L130.2 417.9L130.7 417.7M99.7 416.5L100.5 416.7L102.2 417.7L103.0 417.4L104.2 416.1L105.3 416.5L105.7 417.0L103.4 419.0L102.5 419.5L101.7 419.3L99.7 418.1M126.5 422.7L127.9 422.0L127.9 421.5L127.6 421.2L127.0 421.1L126.1 421.5L125.1 422.7L126.0 422.9L126.5 422.7M112.5 425.5L111.7 425.5L111.4 425.0L111.5 424.2L112.0 424.2L112.6 424.7L112.8 425.2L112.5 425.5" stroke="#303030" stroke-width="0.46" fill="none" stroke-linejoin="round"/>
<path d="M154.5 379.6L154.2 379.5L154.1 379.2L154.0 378.5L154.7 375.5L156.7 371.7L157.5 370.7L158.0 370.5L158.3 371.0L158.3 372.0L157.4 375.0L155.7 378.3L155.0 379.2L154.5 379.6M121.2 426.0L120.0 426.0L118.5 425.4L117.0 425.4L115.9 424.7L116.7 423.6L117.2 423.4L118.5 423.2L119.5 422.3L120.0 422.4L121.0 423.3L121.7 423.6L122.2 423.4L123.2 422.5L123.3 421.5L123.0 420.6L122.2 420.2L121.0 420.2L120.5 419.2L120.5 418.2L121.0 417.8L122.2 417.9L123.5 418.2L124.0 418.1L124.2 417.7L123.6 416.5L123.7 415.5L123.3 414.5L123.5 413.2L123.2 412.8L122.0 412.4L121.7 412.0L121.8 411.5L122.5 410.8L124.2 410.1L124.7 410.1L125.7 410.8L126.5 410.7L126.8 410.2L126.4 408.7L126.7 408.1L128.7 407.3L129.7 406.2L130.7 406.2L131.0 405.9L131.3 404.2L131.9 403.2L132.5 401.2L132.6 398.7L132.8 397.5L134.0 395.9L134.4 394.0L135.2 392.5L135.1 392.0L134.5 391.0L134.4 390.2L133.6 389.7L133.0 388.7L132.2 388.7L130.5 389.8L129.2 388.1L128.0 388.0L127.9 387.5L128.6 386.0L129.5 385.4L130.8 385.2L131.1 385.5L131.2 386.0L131.3 385.7L132.0 385.0L131.9 383.7L132.5 382.0L132.7 381.7L133.6 381.5L134.5 380.3L137.5 378.8L138.5 378.8L139.5 379.4L140.0 380.0L140.1 382.0L139.0 384.7L139.0 386.2L138.7 388.5L137.7 391.7L137.4 395.0L136.6 397.0L136.1 400.7L135.5 402.2L135.5 404.5L134.6 406.0L134.8 407.5L134.7 409.0L133.8 413.5L132.6 418.0L132.7 420.7L133.2 424.2L132.7 424.9L131.7 425.5L129.7 425.1L127.0 425.6L124.5 425.6L123.0 425.4L121.2 426.0M135.6 385.5L136.0 384.7L136.0 383.1L135.5 382.9L134.5 383.0L134.1 383.7L134.2 384.5L135.0 385.4L135.6 385.5M123.2 388.0L122.7 387.9L122.4 387.5L122.5 386.9L123.0 386.5L123.3 386.7L123.5 387.2L123.2 388.0M133.4 388.0L133.8 387.7L134.0 387.2L133.7 386.8L133.2 386.6L132.7 386.9L132.6 387.2L133.0 387.9L133.4 388.0M125.7 391.3L125.2 391.2L124.7 390.2L125.0 389.6L125.7 389.3L126.2 389.5L126.5 390.0L126.2 390.7L125.7 391.3M121.0 396.8L120.0 396.6L119.6 396.2L119.7 395.7L120.4 395.0L120.4 394.7L119.0 392.7L118.2 392.2L118.2 391.7L119.5 390.8L119.8 391.5L120.7 391.9L121.0 391.8L122.0 390.3L123.0 390.0L123.3 390.2L124.0 392.2L124.0 392.7L123.8 393.2L122.6 394.2L122.5 395.0L121.7 395.6L121.4 396.5L121.0 396.8M125.7 394.8L125.0 394.9L124.5 394.8L124.4 394.5L124.6 394.0L125.2 393.6L125.7 393.8L126.1 394.5L125.7 394.8M127.5 400.8L125.7 400.3L125.0 399.2L124.9 398.7L125.5 398.6L126.3 399.0L127.5 400.5L127.5 400.8M129.5 402.6L128.3 402.5L128.0 402.2L127.9 401.7L128.0 401.4L128.7 401.2L129.5 400.7L129.7 400.9L129.9 401.7L129.5 402.6M129.0 405.8L128.2 405.5L128.0 405.0L128.5 404.1L129.2 403.7L129.5 404.0L129.5 404.5L129.3 405.5L129.0 405.8M130.6 418.2L131.1 417.5L131.3 416.2L131.0 413.5L130.5 413.1L128.7 412.8L128.5 413.0L128.2 414.2L128.3 415.5L130.0 418.3L130.2 418.5L130.6 418.2M126.8 423.7L127.2 423.0L128.4 422.0L128.2 421.2L127.5 420.7L126.0 421.2L124.7 422.3L123.9 422.7L123.8 423.0L124.2 423.3L125.5 423.4L126.8 423.7" stroke="#303030" stroke-width="0.46" fill="none" stroke-linejoin="round"/>
<path d="M154.7 378.8L154.5 378.5L154.4 377.7L155.1 375.2L156.5 372.5L157.2 371.5L157.7 371.2L158.0 371.5L158.0 372.2L157.2 375.0L156.0 377.4L155.2 378.4L154.7 378.8M131.7 425.3L131.2 425.3L130.1 425.0L129.2 424.2L128.0 424.1L127.6 423.5L128.0 422.8L129.4 422.2L129.2 421.5L129.3 421.0L131.4 417.7L131.5 416.0L131.2 414.5L131.2 413.2L130.7 412.9L129.2 412.5L128.7 412.1L128.5 411.5L129.1 410.7L129.0 410.2L128.5 410.2L128.2 410.8L127.4 411.2L127.1 412.0L127.7 413.5L128.1 416.0L129.5 418.5L129.4 419.0L129.0 419.6L128.5 420.0L127.2 419.9L124.7 421.9L124.2 422.1L123.8 421.7L123.0 420.0L122.2 419.6L121.0 419.5L120.8 418.7L121.2 418.2L122.2 418.2L123.7 418.6L125.0 418.1L126.0 418.2L126.2 418.0L126.2 417.5L126.0 417.2L125.0 417.1L124.2 416.5L124.2 415.2L123.9 414.5L124.0 414.2L124.7 414.0L123.7 412.2L123.6 411.7L123.8 411.2L124.5 410.7L126.0 411.1L126.9 411.0L127.2 410.5L126.8 409.0L127.0 408.4L128.5 408.0L130.2 406.7L131.0 407.3L131.2 407.3L131.5 407.0L131.4 405.2L131.6 404.2L132.7 401.5L132.9 398.0L133.3 397.0L134.1 396.0L134.6 394.0L135.3 392.5L134.8 391.0L134.7 389.6L134.5 389.3L134.0 389.1L133.7 388.7L134.3 387.7L134.2 386.7L133.5 386.3L132.5 386.4L132.2 386.2L132.2 385.7L132.7 384.7L132.5 383.5L133.0 382.5L133.8 382.2L134.5 380.5L137.5 379.0L138.2 378.9L139.2 379.4L139.8 380.0L140.0 380.7L139.9 382.2L138.9 384.7L138.9 386.2L138.5 388.5L137.7 391.5L137.2 395.0L136.4 397.0L136.1 400.5L135.4 402.2L135.5 404.2L134.4 406.0L134.7 408.0L133.7 413.2L133.2 415.0L132.8 417.0L132.3 418.0L133.0 424.2L132.7 424.7L131.7 425.3M135.7 385.7L136.2 384.7L136.2 382.9L135.7 382.6L134.0 382.6L133.7 383.7L134.0 384.7L135.0 385.8L135.5 385.9L135.7 385.7M130.0 386.7L129.0 386.7L128.9 386.5L129.0 386.0L129.7 385.6L130.2 385.7L130.3 386.2L130.0 386.7M131.0 389.0L130.5 389.0L130.0 388.5L129.8 387.7L130.4 387.0L131.7 386.9L132.3 387.5L132.4 388.2L131.0 389.0M125.5 390.7L125.2 390.5L125.2 390.0L125.7 389.7L126.0 390.2L125.7 390.7L125.5 390.7M122.7 393.6L122.0 393.5L121.5 392.7L121.7 391.7L122.5 390.8L123.0 391.0L123.7 392.5L123.5 393.1L122.7 393.6M120.7 393.8L120.2 393.8L119.9 393.5L119.6 392.7L119.7 392.4L120.2 392.4L120.7 392.7L120.9 393.2L120.7 393.8M128.7 405.1L128.4 405.0L128.7 404.5L129.0 404.7L128.7 405.1M121.5 425.8L120.2 425.8L118.7 425.2L117.2 425.1L116.7 424.9L116.5 424.5L117.0 423.9L118.5 423.6L119.7 423.0L121.0 423.7L121.7 423.8L123.2 423.3L125.3 423.7L127.2 424.4L127.6 424.7L127.5 425.1L127.0 425.3L125.7 425.2L124.5 425.4L122.7 425.2L121.5 425.8" stroke="#303030" stroke-width="0.46" fill="none" stroke-linejoin="round"/>
<path d="M155.2 377.7L155.0 377.7L154.9 377.0L155.5 375.0L156.7 372.6L157.5 372.1L157.6 373.0L157.0 375.0L156.0 376.9L155.2 377.7M132.5 417.3L132.0 417.5L131.7 417.2L131.3 413.0L129.3 412.0L129.2 411.5L129.6 410.5L128.9 409.0L129.5 408.3L131.2 407.7L131.7 407.2L131.6 405.2L132.8 401.7L133.1 398.0L133.4 397.2L134.3 396.0L134.6 394.2L135.4 392.5L135.0 391.0L134.8 387.0L136.2 385.4L136.6 383.0L136.2 382.4L134.6 382.0L134.4 381.5L134.5 381.0L134.9 380.5L135.7 380.0L137.7 379.1L138.2 379.1L139.2 379.5L139.7 380.1L139.7 382.2L138.8 384.5L138.7 386.5L137.2 393.2L137.1 395.0L136.4 396.7L136.0 400.2L135.2 402.2L135.3 404.2L134.3 406.0L134.6 407.5L134.4 409.0L133.6 413.2L133.0 414.7L132.8 416.5L132.5 417.3M131.5 388.5L131.0 388.6L130.5 388.5L130.2 388.0L130.5 387.5L131.2 387.3L131.8 387.5L131.9 388.0L131.5 388.5M123.0 393.0L122.5 393.1L122.0 392.7L122.0 392.2L122.5 391.6L123.0 391.8L123.3 392.2L123.3 392.7L123.0 393.0M126.5 413.7L125.7 413.5L124.5 412.7L124.3 412.2L124.5 411.7L125.2 411.4L126.4 411.7L126.8 413.2L126.5 413.7M127.2 416.5L126.5 416.0L126.4 415.5L126.6 414.7L127.0 414.5L127.2 414.5L127.6 415.2L127.5 416.0L127.2 416.5M128.5 419.3L127.7 419.0L127.3 418.5L127.2 417.5L127.5 416.8L128.5 417.6L129.0 418.2L129.0 418.8L128.5 419.3M131.7 425.1L131.0 425.1L130.0 424.7L129.5 423.5L129.9 422.5L129.8 421.2L130.0 420.5L131.0 418.9L131.7 418.4L132.3 419.2L132.9 423.7L132.6 424.5L131.7 425.1M124.7 421.5L124.2 421.5L124.0 421.2L123.5 419.5L124.7 418.8L125.7 418.9L126.3 419.2L126.4 420.0L124.7 421.5M128.7 423.6L128.2 423.5L128.2 423.2L128.7 423.0L129.0 423.2L128.7 423.6M121.5 425.5L120.2 425.5L118.5 424.7L117.4 424.5L119.7 423.5L122.0 424.2L123.2 423.8L123.7 423.8L125.0 424.1L125.5 424.5L125.5 424.7L124.7 425.1L122.7 424.9L121.5 425.5" stroke="#303030" stroke-width="0.46" fill="none" stroke-linejoin="round"/>
<path d="M155.7 376.4L155.6 376.0L155.7 375.3L156.7 373.5L156.9 373.7L156.7 374.7L156.2 375.8L155.7 376.4M132.2 417.0L131.9 416.7L131.6 415.0L131.7 413.0L129.8 411.7L130.0 410.5L129.7 409.2L131.5 407.9L131.9 407.2L131.7 405.5L132.3 403.7L133.1 402.0L133.3 398.0L134.4 396.0L134.9 394.0L135.6 392.5L135.3 391.0L135.2 387.5L136.5 385.2L136.9 382.7L136.5 382.2L135.0 381.5L135.0 381.0L136.0 380.1L137.2 379.8L137.7 379.4L138.2 379.3L139.2 379.7L139.6 380.2L139.4 382.5L138.6 384.5L138.6 386.2L138.3 388.2L137.0 393.5L137.0 395.0L136.2 397.0L135.8 400.5L135.1 402.2L135.2 404.0L134.2 405.7L134.4 407.5L134.3 409.0L133.3 413.2L132.8 414.5L132.7 416.2L132.2 417.0M131.7 424.8L131.2 424.9L130.5 424.8L130.1 424.5L129.9 424.0L130.3 422.5L130.3 420.7L131.0 419.4L131.5 418.9L131.8 419.0L132.1 419.5L132.7 423.5L132.5 424.2L131.7 424.8M124.7 421.0L124.2 420.8L124.1 420.0L124.5 419.5L125.2 419.3L125.6 419.5L125.7 420.0L124.7 421.0M124.2 424.8L123.6 424.7L123.3 424.5L123.6 424.2L124.2 424.3L124.5 424.5L124.5 424.7L124.2 424.8M121.5 425.2L120.5 425.2L119.6 424.5L120.0 424.3L121.6 424.5L121.9 424.7L121.5 425.2" stroke="#303030" stroke-width="0.46" fill="none" stroke-linejoin="round"/>
<path d="M137.5 381.8L137.0 381.9L136.5 381.7L135.9 381.2L135.8 380.7L136.2 380.3L137.2 380.2L138.2 379.5L139.2 380.0L139.4 380.5L139.2 381.2L138.1 381.2L137.5 381.8M132.7 413.5L132.5 413.7L131.9 412.7L130.5 411.7L130.4 409.5L131.7 408.0L132.1 407.2L132.0 405.2L132.5 403.7L133.4 402.2L133.2 400.5L133.5 398.0L134.5 396.2L135.0 394.2L135.7 392.7L135.5 387.5L136.7 385.5L136.8 384.0L137.2 383.1L137.7 382.7L138.7 382.7L138.8 383.0L138.4 384.7L138.4 386.2L138.1 388.2L136.9 393.2L136.8 395.0L136.0 397.0L135.7 400.5L134.9 402.2L135.1 404.0L134.2 405.2L134.0 406.0L134.3 407.5L134.1 409.0L133.5 410.5L133.2 412.4L132.7 413.5M132.2 416.2L132.1 415.5L132.2 415.0L132.4 415.7L132.2 416.2M131.2 424.7L130.5 424.5L130.2 424.0L130.7 422.5L130.7 420.7L131.0 420.1L131.5 419.6L131.7 419.9L132.4 422.0L132.5 423.5L132.2 424.1L131.2 424.7" stroke="#303030" stroke-width="0.46" fill="none" stroke-linejoin="round"/>
<path d="M138.7 380.8L138.0 380.5L138.2 379.9L138.7 379.9L139.0 380.2L139.0 380.7L138.7 380.8M132.7 412.5L132.2 412.4L131.0 411.5L131.2 410.5L131.0 409.5L132.3 407.5L132.4 406.7L132.3 405.2L132.9 403.7L133.8 402.2L133.4 400.7L133.7 398.2L134.7 396.2L135.1 394.2L135.9 392.5L135.8 387.5L137.2 385.5L137.2 383.7L138.0 383.2L138.2 383.4L138.2 383.7L137.9 388.2L136.7 393.2L136.6 395.0L135.8 397.0L135.5 400.5L134.6 402.2L134.9 403.2L134.9 404.0L133.8 405.7L133.8 406.2L134.1 407.5L133.9 409.0L133.6 409.7L132.9 410.5L133.1 411.7L132.7 412.5M131.0 424.5L130.6 424.2L130.5 423.7L131.1 422.7L131.3 421.7L131.5 421.5L131.7 421.5L132.2 422.2L132.1 423.5L131.6 424.2L131.0 424.5" stroke="#303030" stroke-width="0.46" fill="none" stroke-linejoin="round"/>
<path d="M136.5 392.6L136.2 392.0L135.9 388.0L136.5 386.8L137.0 386.4L137.5 386.2L137.8 386.7L137.8 388.2L136.5 392.6M134.5 401.7L134.0 401.7L133.6 401.0L133.9 398.2L134.9 396.5L135.4 394.0L136.2 392.9L136.4 395.0L135.6 397.0L135.3 400.5L135.0 401.2L134.5 401.7M132.5 410.3L132.0 410.4L131.7 410.2L131.5 409.2L132.7 407.0L132.6 405.5L132.9 404.2L134.2 402.8L134.6 403.2L134.7 403.7L133.5 406.0L133.9 407.5L133.6 409.0L133.2 409.7L132.5 410.3M132.5 411.8L132.0 411.7L132.0 411.1L132.5 411.3L132.5 411.8" stroke="#303030" stroke-width="0.46" fill="none" stroke-linejoin="round"/>
<path d="M138.6 380.5L136.2 392.0L133.8 404.0L132.2 415.0L131.6 424.0" stroke="#111" stroke-width="1.3" fill="none" stroke-linecap="round" stroke-linejoin="round" opacity="0.85"/>
<path d="M112.0 424.6L132.0 424.6" stroke="#222" stroke-width="0.9" fill="none" stroke-linecap="round" opacity="0.7"/>
<path d="M99.9 363.5 L101.0 365.5 L102.1 375.5 L102.7 393.5 L102.9 425.2 L102.3 432.4 L99.9 432.4 Z" fill="#0a0a0a"/>
</g>
<ellipse cx="153.35" cy="377.6" rx="9.4" ry="16.5" transform="rotate(30.5 153.35 377.6)" fill="none" stroke="#444" stroke-width="0.75"/>
<text x="145.20" y="362.60" font-size="7.6" fill="#222" text-anchor="start" stroke="#fff" stroke-width="1.2" paint-order="stroke">9.58</text>
</g>
<text x="18.40" y="443.80" font-size="10.2" fill="#111" text-anchor="start" stroke="#111" stroke-width="0.26">Foxp3</text>
<line x1="50.90" y1="440.10" x2="169.50" y2="440.10" stroke="#111" stroke-width="1.4"/>
<polygon points="178.20,440.10 168.50,437.60 168.50,442.60" fill="#111"/>
<text x="16.80" y="433.40" font-size="10.2" fill="#111" text-anchor="start" transform="rotate(-90 16.80 433.40)" stroke="#111" stroke-width="0.26">CD25</text>
<line x1="12.90" y1="403.80" x2="12.90" y2="365.10" stroke="#111" stroke-width="1.3"/>
<polygon points="12.90,356.40 10.40,366.10 15.40,366.10" fill="#111"/>
<text x="187.50" y="350.40" font-size="11.2" font-weight="bold" fill="#111" text-anchor="start" stroke="#111" stroke-width="0.3">J</text>
<line x1="236.15" y1="403.20" x2="236.15" y2="396.40" stroke="#111" stroke-width="1.0"/>
<line x1="231.15" y1="396.40" x2="241.15" y2="396.40" stroke="#111" stroke-width="1.0"/>
<rect x="225.10" y="403.20" width="22.10" height="39.70" fill="#050505" stroke="none" stroke-width="1"/>
<line x1="236.15" y1="442.90" x2="236.15" y2="445.80" stroke="#111" stroke-width="1.0"/>
<line x1="267.35" y1="392.10" x2="267.35" y2="390.10" stroke="#111" stroke-width="1.0"/>
<line x1="262.35" y1="390.10" x2="272.35" y2="390.10" stroke="#111" stroke-width="1.0"/>
<rect x="256.90" y="392.60" width="20.90" height="50.30" fill="#4a4a4a" stroke="#141414" stroke-width="1.2"/>
<text x="267.35" y="389.40" font-size="8.2" fill="#111" text-anchor="middle" stroke="#111" stroke-width="0.26">*</text>
<line x1="267.35" y1="442.90" x2="267.35" y2="445.80" stroke="#111" stroke-width="1.0"/>
<line x1="220.10" y1="364.10" x2="220.10" y2="443.40" stroke="#111" stroke-width="1.1"/>
<line x1="219.60" y1="442.90" x2="282.80" y2="442.90" stroke="#111" stroke-width="1.3"/>
<line x1="217.20" y1="364.60" x2="220.10" y2="364.60" stroke="#111" stroke-width="1.0"/>
<text x="216.80" y="366.33" font-size="4.8" fill="#111" text-anchor="end" stroke="#111" stroke-width="0.26">15</text>
<line x1="217.20" y1="390.80" x2="220.10" y2="390.80" stroke="#111" stroke-width="1.0"/>
<text x="216.80" y="392.53" font-size="4.8" fill="#111" text-anchor="end" stroke="#111" stroke-width="0.26">10</text>
<line x1="217.20" y1="417.00" x2="220.10" y2="417.00" stroke="#111" stroke-width="1.0"/>
<text x="216.80" y="418.73" font-size="4.8" fill="#111" text-anchor="end" stroke="#111" stroke-width="0.26">5</text>
<line x1="217.20" y1="442.90" x2="220.10" y2="442.90" stroke="#111" stroke-width="1.0"/>
<text x="216.80" y="444.63" font-size="4.8" fill="#111" text-anchor="end" stroke="#111" stroke-width="0.26">0</text>
<text x="197.10" y="417.70" font-size="8.4" fill="#111" text-anchor="start" transform="rotate(-90 197.10 417.70)" stroke="#111" stroke-width="0.26">Percent</text>
<text x="207.80" y="430.60" font-size="8.7" fill="#111" text-anchor="start" transform="rotate(-90 207.80 430.60)" stroke="#111" stroke-width="0.26">CD25<tspan font-size="5" dy="-3">hi</tspan><tspan dy="3">Foxp3</tspan><tspan font-size="5.5" dy="-3">+</tspan></text>
</g>
</svg>
</body></html>
